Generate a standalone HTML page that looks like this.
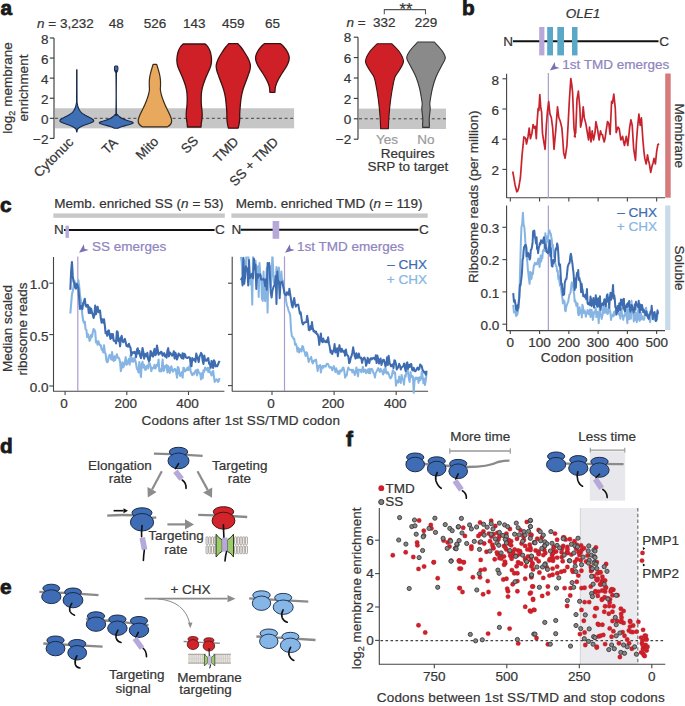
<!DOCTYPE html>
<html><head><meta charset="utf-8"><style>
html,body{margin:0;padding:0;background:#fff;width:685px;height:706px;overflow:hidden}
svg{display:block;font-family:"Liberation Sans", sans-serif}

</style></head><body>
<svg width="685" height="706" viewBox="0 0 685 706">
<rect width="685" height="706" fill="#fff"/>
<text x="0.5" y="15.3" font-size="20.8" fill="#1a1a1a" stroke="#1a1a1a" stroke-width="0.8" font-weight="bold" >a</text>
<rect x="55" y="108.26" width="239.1" height="20.08" fill="#c6c6c6" />
<line x1="55" y1="118.3" x2="294" y2="118.3" stroke="#444" stroke-width="1" stroke-dasharray="3,2.6"/>
<line x1="54" y1="37.98" x2="54" y2="138.38" stroke="#333" stroke-width="1.1" />
<line x1="49.8" y1="37.98" x2="54" y2="37.98" stroke="#333" stroke-width="1.1" />
<text x="48.5" y="43.68" font-size="13.5" fill="#353535" stroke="#353535" stroke-width="0.22" text-anchor="end" >8</text>
<line x1="49.8" y1="58.06" x2="54" y2="58.06" stroke="#333" stroke-width="1.1" />
<text x="48.5" y="63.76" font-size="13.5" fill="#353535" stroke="#353535" stroke-width="0.22" text-anchor="end" >6</text>
<line x1="49.8" y1="78.14" x2="54" y2="78.14" stroke="#333" stroke-width="1.1" />
<text x="48.5" y="83.84" font-size="13.5" fill="#353535" stroke="#353535" stroke-width="0.22" text-anchor="end" >4</text>
<line x1="49.8" y1="98.22" x2="54" y2="98.22" stroke="#333" stroke-width="1.1" />
<text x="48.5" y="103.92" font-size="13.5" fill="#353535" stroke="#353535" stroke-width="0.22" text-anchor="end" >2</text>
<line x1="49.8" y1="118.3" x2="54" y2="118.3" stroke="#333" stroke-width="1.1" />
<text x="48.5" y="124" font-size="13.5" fill="#353535" stroke="#353535" stroke-width="0.22" text-anchor="end" >0</text>
<line x1="49.8" y1="138.38" x2="54" y2="138.38" stroke="#333" stroke-width="1.1" />
<text x="48.5" y="144.08" font-size="13.5" fill="#353535" stroke="#353535" stroke-width="0.22" text-anchor="end" >−2</text>
<text x="37" y="28" font-size="13.5" fill="#353535" stroke="#353535" stroke-width="0.22" ><tspan font-style="italic">n</tspan> = 3,232</text>
<text x="116.2" y="28" font-size="13.5" fill="#353535" stroke="#353535" stroke-width="0.22" text-anchor="middle" >48</text>
<text x="154.9" y="28" font-size="13.5" fill="#353535" stroke="#353535" stroke-width="0.22" text-anchor="middle" >526</text>
<text x="194.2" y="28" font-size="13.5" fill="#353535" stroke="#353535" stroke-width="0.22" text-anchor="middle" >143</text>
<text x="233.3" y="28" font-size="13.5" fill="#353535" stroke="#353535" stroke-width="0.22" text-anchor="middle" >459</text>
<text x="272.4" y="28" font-size="13.5" fill="#353535" stroke="#353535" stroke-width="0.22" text-anchor="middle" >65</text>
<text x="12.3" y="88" font-size="13.5" fill="#353535" stroke="#353535" stroke-width="0.22" text-anchor="middle" transform="rotate(-90 12.3 88)" >log<tspan font-size="9" dy="3">2</tspan><tspan dy="-3"> membrane</tspan></text>
<text x="28" y="88" font-size="13.5" fill="#353535" stroke="#353535" stroke-width="0.22" text-anchor="middle" transform="rotate(-90 28 88)" >enrichment</text>
<path d="M77,69.7 C77.01,74.75 76.98,94.28 77.05,100 C77.12,105.72 77.22,102.83 77.4,104 C77.57,105.17 77.77,106 78.1,107 C78.43,108 78.87,109.07 79.4,110 C79.93,110.93 80.4,111.77 81.3,112.6 C82.2,113.43 83.55,114.27 84.8,115 C86.05,115.73 87.55,116.33 88.8,117 C90.05,117.67 91.47,118.42 92.3,119 C93.13,119.58 93.72,120 93.8,120.5 C93.88,121 93.55,121.5 92.8,122 C92.05,122.5 90.63,123 89.3,123.5 C87.97,124 86.13,124.5 84.8,125 C83.47,125.5 82.3,126 81.3,126.5 C80.3,127 79.45,127.5 78.8,128 C78.15,128.5 77.7,128.83 77.4,129.5 C77.1,130.17 77.07,131.58 77,132 L76.6,132 C76.53,131.58 76.5,130.17 76.2,129.5 C75.9,128.83 75.45,128.5 74.8,128 C74.15,127.5 73.3,127 72.3,126.5 C71.3,126 70.13,125.5 68.8,125 C67.47,124.5 65.63,124 64.3,123.5 C62.97,123 61.55,122.5 60.8,122 C60.05,121.5 59.72,121 59.8,120.5 C59.88,120 60.47,119.58 61.3,119 C62.13,118.42 63.55,117.67 64.8,117 C66.05,116.33 67.55,115.73 68.8,115 C70.05,114.27 71.4,113.43 72.3,112.6 C73.2,111.77 73.67,110.93 74.2,110 C74.73,109.07 75.17,108 75.5,107 C75.83,106 76.03,105.17 76.2,104 C76.38,102.83 76.48,105.72 76.55,100 C76.62,94.28 76.59,74.75 76.6,69.7 Z" fill="#3f6fb5" stroke="#1b2a48" stroke-width="1.1" stroke-linejoin="round"/>
<path d="M117.2,66 C117.3,66.17 117.7,66.33 117.8,67 C117.9,67.67 117.93,69.17 117.8,70 C117.67,70.83 117.22,71.33 117,72 C116.78,72.67 116.54,67.33 116.45,74 C116.36,80.67 116.29,105.25 116.45,112 C116.61,118.75 116.94,113.75 117.4,114.5 C117.86,115.25 118.4,115.83 119.2,116.5 C120,117.17 120.87,117.83 122.2,118.5 C123.53,119.17 125.45,119.88 127.2,120.5 C128.95,121.12 131.87,121.7 132.7,122.2 C133.53,122.7 133.03,123.03 132.2,123.5 C131.37,123.97 129.37,124.5 127.7,125 C126.03,125.5 123.87,125.95 122.2,126.5 C120.53,127.05 118.45,128 117.7,128.3 L114.7,128.3 C113.95,128 111.87,127.05 110.2,126.5 C108.53,125.95 106.37,125.5 104.7,125 C103.03,124.5 101.03,123.97 100.2,123.5 C99.37,123.03 98.87,122.7 99.7,122.2 C100.53,121.7 103.45,121.12 105.2,120.5 C106.95,119.88 108.87,119.17 110.2,118.5 C111.53,117.83 112.4,117.17 113.2,116.5 C114,115.83 114.54,115.25 115,114.5 C115.46,113.75 115.79,118.75 115.95,112 C116.11,105.25 116.04,80.67 115.95,74 C115.86,67.33 115.62,72.67 115.4,72 C115.18,71.33 114.73,70.83 114.6,70 C114.47,69.17 114.5,67.67 114.6,67 C114.7,66.33 115.1,66.17 115.2,66 Z" fill="#3f6fb5" stroke="#1b2a48" stroke-width="1.1" stroke-linejoin="round"/>
<path d="M156.7,64.4 C156.83,64.83 157.17,65.9 157.5,67 C157.83,68.1 158.3,69.5 158.7,71 C159.1,72.5 159.6,74.33 159.9,76 C160.2,77.67 160.4,79.33 160.5,81 C160.6,82.67 160.52,84.5 160.5,86 C160.48,87.5 160.25,88.5 160.4,90 C160.55,91.5 160.95,93.33 161.4,95 C161.85,96.67 162.48,98.33 163.1,100 C163.72,101.67 164.37,103.33 165.1,105 C165.83,106.67 166.7,108.33 167.5,110 C168.3,111.67 169.23,113.42 169.9,115 C170.57,116.58 171.25,118.25 171.5,119.5 C171.75,120.75 171.67,121.58 171.4,122.5 C171.13,123.42 170.57,124.28 169.9,125 C169.23,125.72 167.82,126.5 167.4,126.8 L142.4,126.8 C141.98,126.5 140.57,125.72 139.9,125 C139.23,124.28 138.67,123.42 138.4,122.5 C138.13,121.58 138.05,120.75 138.3,119.5 C138.55,118.25 139.23,116.58 139.9,115 C140.57,113.42 141.5,111.67 142.3,110 C143.1,108.33 143.97,106.67 144.7,105 C145.43,103.33 146.08,101.67 146.7,100 C147.32,98.33 147.95,96.67 148.4,95 C148.85,93.33 149.25,91.5 149.4,90 C149.55,88.5 149.32,87.5 149.3,86 C149.28,84.5 149.2,82.67 149.3,81 C149.4,79.33 149.6,77.67 149.9,76 C150.2,74.33 150.7,72.5 151.1,71 C151.5,69.5 151.97,68.1 152.3,67 C152.63,65.9 152.97,64.83 153.1,64.4 Z" fill="#e8a95e" stroke="#3a2a18" stroke-width="1.2" stroke-linejoin="round"/>
<path d="M205.2,44 C205.67,44.5 207.2,45.83 208,47 C208.8,48.17 209.47,49.5 210,51 C210.53,52.5 210.95,54.33 211.2,56 C211.45,57.67 211.58,59.33 211.5,61 C211.42,62.67 211.17,64.33 210.7,66 C210.23,67.67 209.4,69.33 208.7,71 C208,72.67 207.2,74.33 206.5,76 C205.8,77.67 205.12,79.33 204.5,81 C203.88,82.67 203.27,84.33 202.8,86 C202.33,87.67 201.97,89.17 201.7,91 C201.43,92.83 201.27,94.83 201.2,97 C201.13,99.17 201.18,101.83 201.3,104 C201.42,106.17 201.75,108.17 201.9,110 C202.05,111.83 202.22,113.33 202.2,115 C202.18,116.67 201.97,118.5 201.8,120 C201.63,121.5 201.33,122.83 201.2,124 C201.07,125.17 201.03,126.5 201,127 L187.4,127 C187.37,126.5 187.33,125.17 187.2,124 C187.07,122.83 186.77,121.5 186.6,120 C186.43,118.5 186.22,116.67 186.2,115 C186.18,113.33 186.35,111.83 186.5,110 C186.65,108.17 186.98,106.17 187.1,104 C187.22,101.83 187.27,99.17 187.2,97 C187.13,94.83 186.97,92.83 186.7,91 C186.43,89.17 186.07,87.67 185.6,86 C185.13,84.33 184.52,82.67 183.9,81 C183.28,79.33 182.6,77.67 181.9,76 C181.2,74.33 180.4,72.67 179.7,71 C179,69.33 178.17,67.67 177.7,66 C177.23,64.33 176.98,62.67 176.9,61 C176.82,59.33 176.95,57.67 177.2,56 C177.45,54.33 177.87,52.5 178.4,51 C178.93,49.5 179.6,48.17 180.4,47 C181.2,45.83 182.73,44.5 183.2,44 Z" fill="#cf2027" stroke="#3d1212" stroke-width="1.3" stroke-linejoin="round"/>
<path d="M237.9,43.7 C238.38,44.25 239.73,45.62 240.8,47 C241.87,48.38 243.12,50.17 244.3,52 C245.48,53.83 246.97,56.17 247.9,58 C248.83,59.83 249.48,61.67 249.9,63 C250.32,64.33 250.4,64.83 250.4,66 C250.4,67.17 250.32,68.33 249.9,70 C249.48,71.67 248.67,73.83 247.9,76 C247.13,78.17 246.17,80.57 245.3,83 C244.43,85.43 243.4,88.1 242.7,90.6 C242,93.1 241.53,95.1 241.1,98 C240.67,100.9 240.33,105.33 240.1,108 C239.87,110.67 239.77,112.17 239.7,114 C239.63,115.83 239.8,117.33 239.7,119 C239.6,120.67 239.37,122.47 239.1,124 C238.83,125.53 238.27,127.5 238.1,128.2 L228.5,128.2 C228.33,127.5 227.77,125.53 227.5,124 C227.23,122.47 227,120.67 226.9,119 C226.8,117.33 226.97,115.83 226.9,114 C226.83,112.17 226.73,110.67 226.5,108 C226.27,105.33 225.93,100.9 225.5,98 C225.07,95.1 224.6,93.1 223.9,90.6 C223.2,88.1 222.17,85.43 221.3,83 C220.43,80.57 219.47,78.17 218.7,76 C217.93,73.83 217.12,71.67 216.7,70 C216.28,68.33 216.2,67.17 216.2,66 C216.2,64.83 216.28,64.33 216.7,63 C217.12,61.67 217.77,59.83 218.7,58 C219.63,56.17 221.12,53.83 222.3,52 C223.48,50.17 224.73,48.38 225.8,47 C226.87,45.62 228.22,44.25 228.7,43.7 Z" fill="#cf2027" stroke="#3d1212" stroke-width="1.3" stroke-linejoin="round"/>
<path d="M280.4,43.7 C280.98,44.25 282.82,45.78 283.9,47 C284.98,48.22 286.1,49.67 286.9,51 C287.7,52.33 288.32,53.92 288.7,55 C289.08,56.08 289.18,56.5 289.2,57.5 C289.22,58.5 289.13,59.75 288.8,61 C288.47,62.25 287.85,63.67 287.2,65 C286.55,66.33 285.73,67.67 284.9,69 C284.07,70.33 283.15,71.5 282.2,73 C281.25,74.5 280.12,76.33 279.2,78 C278.28,79.67 277.33,81.5 276.7,83 C276.07,84.5 275.7,85.45 275.4,87 C275.1,88.55 274.98,91.42 274.9,92.3 L269.9,92.3 C269.82,91.42 269.7,88.55 269.4,87 C269.1,85.45 268.73,84.5 268.1,83 C267.47,81.5 266.52,79.67 265.6,78 C264.68,76.33 263.55,74.5 262.6,73 C261.65,71.5 260.73,70.33 259.9,69 C259.07,67.67 258.25,66.33 257.6,65 C256.95,63.67 256.33,62.25 256,61 C255.67,59.75 255.58,58.5 255.6,57.5 C255.62,56.5 255.72,56.08 256.1,55 C256.48,53.92 257.1,52.33 257.9,51 C258.7,49.67 259.82,48.22 260.9,47 C261.98,45.78 263.82,44.25 264.4,43.7 Z" fill="#cf2027" stroke="#3d1212" stroke-width="1.3" stroke-linejoin="round"/>
<text x="74.3" y="143" font-size="13.5" fill="#353535" stroke="#353535" stroke-width="0.22" text-anchor="end" transform="rotate(-45 74.3 143)" >Cytonuc</text>
<text x="118.7" y="143.5" font-size="13.5" fill="#353535" stroke="#353535" stroke-width="0.22" text-anchor="end" transform="rotate(-45 118.7 143.5)" >TA</text>
<text x="159.4" y="142.5" font-size="13.5" fill="#353535" stroke="#353535" stroke-width="0.22" text-anchor="end" transform="rotate(-45 159.4 142.5)" >Mito</text>
<text x="199.2" y="141.5" font-size="13.5" fill="#353535" stroke="#353535" stroke-width="0.22" text-anchor="end" transform="rotate(-45 199.2 141.5)" >SS</text>
<text x="239.5" y="142.5" font-size="13.5" fill="#353535" stroke="#353535" stroke-width="0.22" text-anchor="end" transform="rotate(-45 239.5 142.5)" >TMD</text>
<text x="279.1" y="142.8" font-size="13.5" fill="#353535" stroke="#353535" stroke-width="0.22" text-anchor="end" transform="rotate(-45 279.1 142.8)" >SS + TMD</text>
<rect x="359" y="108.6" width="87" height="20.4" fill="#c6c6c6" />
<line x1="359" y1="118.8" x2="446" y2="118.8" stroke="#444" stroke-width="1" stroke-dasharray="3,2.6"/>
<line x1="358" y1="37.2" x2="358" y2="139.2" stroke="#333" stroke-width="1.1" />
<line x1="353.8" y1="37.2" x2="358" y2="37.2" stroke="#333" stroke-width="1.1" />
<text x="351.2" y="42.3" font-size="13.5" fill="#353535" stroke="#353535" stroke-width="0.22" text-anchor="end" >8</text>
<line x1="353.8" y1="57.6" x2="358" y2="57.6" stroke="#333" stroke-width="1.1" />
<text x="351.2" y="62.7" font-size="13.5" fill="#353535" stroke="#353535" stroke-width="0.22" text-anchor="end" >6</text>
<line x1="353.8" y1="78" x2="358" y2="78" stroke="#333" stroke-width="1.1" />
<text x="351.2" y="83.1" font-size="13.5" fill="#353535" stroke="#353535" stroke-width="0.22" text-anchor="end" >4</text>
<line x1="353.8" y1="98.4" x2="358" y2="98.4" stroke="#333" stroke-width="1.1" />
<text x="351.2" y="103.5" font-size="13.5" fill="#353535" stroke="#353535" stroke-width="0.22" text-anchor="end" >2</text>
<line x1="353.8" y1="118.8" x2="358" y2="118.8" stroke="#333" stroke-width="1.1" />
<text x="351.2" y="123.9" font-size="13.5" fill="#353535" stroke="#353535" stroke-width="0.22" text-anchor="end" >0</text>
<line x1="353.8" y1="139.2" x2="358" y2="139.2" stroke="#333" stroke-width="1.1" />
<text x="351.2" y="144.3" font-size="13.5" fill="#353535" stroke="#353535" stroke-width="0.22" text-anchor="end" >−2</text>
<text x="346.5" y="26.5" font-size="13.5" fill="#353535" stroke="#353535" stroke-width="0.22" ><tspan font-style="italic">n</tspan> = </text>
<text x="384.2" y="26.5" font-size="13.5" fill="#353535" stroke="#353535" stroke-width="0.22" text-anchor="middle" >332</text>
<text x="426" y="26.5" font-size="13.5" fill="#353535" stroke="#353535" stroke-width="0.22" text-anchor="middle" >229</text>
<polyline points="384.3,14.2 384.3,9.6 425.5,9.6 425.5,14.2" fill="none" stroke="#555" stroke-width="1.1" stroke-linejoin="round" />
<text x="406" y="14.8" font-size="16.5" fill="#353535" stroke="#353535" stroke-width="0.22" text-anchor="middle" >**</text>
<path d="M391.9,43.8 C393.17,45.17 397.57,49.08 399.5,52 C401.43,54.92 403.5,58.3 403.5,61.3 C403.5,64.3 400.92,67.38 399.5,70 C398.08,72.62 396.17,74 395,77 C393.83,80 393.18,84.5 392.5,88 C391.82,91.5 391.37,94.67 390.9,98 C390.43,101.33 390.05,104.53 389.7,108 C389.35,111.47 389,115.97 388.8,118.8 C388.6,121.63 388.58,123.35 388.5,125 C388.42,126.65 388.33,128.08 388.3,128.7 L380.7,128.7 C380.67,128.08 380.58,126.65 380.5,125 C380.42,123.35 380.4,121.63 380.2,118.8 C380,115.97 379.65,111.47 379.3,108 C378.95,104.53 378.57,101.33 378.1,98 C377.63,94.67 377.18,91.5 376.5,88 C375.82,84.5 375.17,80 374,77 C372.83,74 370.92,72.62 369.5,70 C368.08,67.38 365.5,64.3 365.5,61.3 C365.5,58.3 367.57,54.92 369.5,52 C371.43,49.08 375.83,45.17 377.1,43.8 Z" fill="#cf2027" stroke="#3d1212" stroke-width="1.1" stroke-linejoin="round"/>
<path d="M434.3,42 C435.5,43.33 439.67,47.37 441.5,50 C443.33,52.63 445.3,55.13 445.3,57.8 C445.3,60.47 443.05,62.8 441.5,66 C439.95,69.2 437.5,73.33 436,77 C434.5,80.67 433.4,84.5 432.5,88 C431.6,91.5 431.05,95.33 430.6,98 C430.15,100.67 429.87,102.17 429.8,104 C429.73,105.83 430.3,106.53 430.2,109 C430.1,111.47 429.33,116.3 429.2,118.8 C429.07,121.3 429.38,122.57 429.4,124 C429.42,125.43 429.32,126.83 429.3,127.4 L422.7,127.4 C422.68,126.83 422.58,125.43 422.6,124 C422.62,122.57 422.93,121.3 422.8,118.8 C422.67,116.3 421.9,111.47 421.8,109 C421.7,106.53 422.27,105.83 422.2,104 C422.13,102.17 421.85,100.67 421.4,98 C420.95,95.33 420.4,91.5 419.5,88 C418.6,84.5 417.5,80.67 416,77 C414.5,73.33 412.05,69.2 410.5,66 C408.95,62.8 406.7,60.47 406.7,57.8 C406.7,55.13 408.67,52.63 410.5,50 C412.33,47.37 416.5,43.33 417.7,42 Z" fill="#8a8a8a" stroke="#333" stroke-width="1.1" stroke-linejoin="round"/>
<text x="386.9" y="143.5" font-size="13.5" fill="#9a9a9a" stroke="#9a9a9a" stroke-width="0.22" text-anchor="middle" >Yes</text>
<text x="425.8" y="143.5" font-size="13.5" fill="#9a9a9a" stroke="#9a9a9a" stroke-width="0.22" text-anchor="middle" >No</text>
<text x="407.8" y="157.7" font-size="13.5" fill="#353535" stroke="#353535" stroke-width="0.22" text-anchor="middle" >Requires</text>
<text x="407.8" y="170.5" font-size="13.5" fill="#353535" stroke="#353535" stroke-width="0.22" text-anchor="middle" >SRP to target</text>
<text x="462" y="15.3" font-size="20.8" fill="#1a1a1a" stroke="#1a1a1a" stroke-width="0.8" font-weight="bold" >b</text>
<text x="583" y="18.2" font-size="13.5" fill="#353535" stroke="#353535" stroke-width="0.22" text-anchor="middle" font-style="italic" >OLE1</text>
<text x="503.3" y="46.4" font-size="13.5" fill="#353535" stroke="#353535" stroke-width="0.22" >N</text>
<line x1="513" y1="41.3" x2="658.5" y2="41.3" stroke="#111" stroke-width="2" />
<text x="659.2" y="46.4" font-size="13.5" fill="#353535" stroke="#353535" stroke-width="0.22" >C</text>
<rect x="539.2" y="27" width="5.2" height="28.4" fill="#b6a8d8" />
<rect x="547.2" y="27" width="5.8" height="28.4" fill="#5aa7c7" />
<rect x="557.3" y="27" width="6.7" height="28.4" fill="#5aa7c7" />
<rect x="572" y="27" width="5.5" height="28.4" fill="#5aa7c7" />
<polygon points="549.9,70.6 554.7,62 555.4,66.6 559.6,67.9" fill="#7b70b3" stroke="none" stroke-width="0" />
<text x="562.3" y="68.8" font-size="13.5" fill="#8f84c0" stroke="#8f84c0" stroke-width="0.22" >1st TMD emerges</text>
<line x1="506.6" y1="73.7" x2="506.6" y2="198" stroke="#444" stroke-width="1.1" />
<line x1="506.6" y1="197.8" x2="665" y2="197.8" stroke="#444" stroke-width="1.1" />
<line x1="502.4" y1="78.8" x2="506.6" y2="78.8" stroke="#444" stroke-width="1.1" />
<text x="499.1" y="84.8" font-size="13.5" fill="#353535" stroke="#353535" stroke-width="0.22" text-anchor="end" >8</text>
<line x1="502.4" y1="109" x2="506.6" y2="109" stroke="#444" stroke-width="1.1" />
<text x="499.1" y="115" font-size="13.5" fill="#353535" stroke="#353535" stroke-width="0.22" text-anchor="end" >6</text>
<line x1="502.4" y1="139.2" x2="506.6" y2="139.2" stroke="#444" stroke-width="1.1" />
<text x="499.1" y="145.2" font-size="13.5" fill="#353535" stroke="#353535" stroke-width="0.22" text-anchor="end" >4</text>
<line x1="502.4" y1="169.4" x2="506.6" y2="169.4" stroke="#444" stroke-width="1.1" />
<text x="499.1" y="175.4" font-size="13.5" fill="#353535" stroke="#353535" stroke-width="0.22" text-anchor="end" >2</text>
<line x1="510.3" y1="197.8" x2="510.3" y2="201.5" stroke="#444" stroke-width="1.1" />
<line x1="539.57" y1="197.8" x2="539.57" y2="201.5" stroke="#444" stroke-width="1.1" />
<line x1="568.84" y1="197.8" x2="568.84" y2="201.5" stroke="#444" stroke-width="1.1" />
<line x1="598.11" y1="197.8" x2="598.11" y2="201.5" stroke="#444" stroke-width="1.1" />
<line x1="627.38" y1="197.8" x2="627.38" y2="201.5" stroke="#444" stroke-width="1.1" />
<line x1="656.65" y1="197.8" x2="656.65" y2="201.5" stroke="#444" stroke-width="1.1" />
<rect x="665.2" y="73.5" width="5.5" height="124.2" fill="#d77a7c" />
<text x="675" y="135.7" font-size="13.5" fill="#353535" stroke="#353535" stroke-width="0.22" text-anchor="middle" transform="rotate(90 675 135.7)" textLength="64.5">Membrane</text>
<line x1="548.35" y1="73" x2="548.35" y2="198" stroke="#a89cd0" stroke-width="1.2" />
<polyline points="512.7,171.5 513.85,177.69 515,184.7 516.8,191.8 517.7,190.87 518.6,188.3 520.4,177.7 522.1,154.6 523.9,136.9 524.8,137.44 525.7,138.7 526.5,144 528,136.9 529.2,128.1 530.4,138.7 531.9,133.4 533.1,124.6 534.5,128.1 535.4,126.3 536.3,138.7 537.2,121 538.1,108.6 538.9,110.4 539.8,94.5 540.7,106.9 541.6,112.2 542.5,133.4 543.9,142.3 545.1,149.3 546.4,124.6 547.4,112.2 548.7,101.5 549.9,113.9 551.3,117.5 552.7,128.1 554,149.3 555.8,129.9 557.5,106.9 558.8,117.5 560.2,121 561.9,128.1 562.8,140 563.7,152.9 565.1,158.2 566.9,145.8 568.1,124.6 569.4,99.8 570.8,78.5 571.7,84.11 572.6,92.7 574,128.1 575.2,136.9 574.4,136.3 575.7,132.6 577,99.5 578.4,91.2 579.9,108.7 580.6,127.1 582.1,119.8 583.2,106.9 584.3,117.9 585.8,123.4 587.3,132.6 588.6,140 589.5,127.1 591,141.9 592.2,130.8 593.5,140 595,132.6 595.9,121.6 596.85,125.86 597.8,130.8 599.1,140 600.5,130.8 601.45,134.43 602.4,134.5 603.3,138.88 604.2,141.9 605.15,138.01 606.1,130.8 607.5,121.6 608.8,123.4 610.1,134.5 611.6,101.3 612.5,103.2 613.8,94 615.3,108.7 616.2,132.6 618,127.1 619.3,129 620.8,140 621.7,138.55 622.6,136.3 623.55,141.53 624.5,145.5 626.3,136.3 627.8,145.5 628.75,136.6 629.7,127.1 630.9,119.8 632.2,125.3 633.7,149.2 635.5,160.3 636.45,141.98 637.4,129 638.9,114.2 640.2,125.3 641.4,117.9 642.9,140 643.85,150.57 644.8,158.4 646.2,164 647.5,154.8 648.45,160.21 649.4,164 650.7,172.3 652.1,165.8 653.05,162.9 654,158.4 655.4,164 656.7,151.1 657.9,144.69 659.1,143.7" fill="none" stroke="#c8232c" stroke-width="1.7" stroke-linejoin="round" />
<line x1="506.6" y1="205.5" x2="506.6" y2="331.1" stroke="#444" stroke-width="1.1" />
<line x1="506.6" y1="330.6" x2="665" y2="330.6" stroke="#444" stroke-width="1.1" />
<line x1="502.4" y1="227.3" x2="506.6" y2="227.3" stroke="#444" stroke-width="1.1" />
<text x="499.4" y="232.9" font-size="13.5" fill="#353535" stroke="#353535" stroke-width="0.22" text-anchor="end" >0.3</text>
<line x1="502.4" y1="259.6" x2="506.6" y2="259.6" stroke="#444" stroke-width="1.1" />
<text x="499.4" y="265.2" font-size="13.5" fill="#353535" stroke="#353535" stroke-width="0.22" text-anchor="end" >0.2</text>
<line x1="502.4" y1="291.9" x2="506.6" y2="291.9" stroke="#444" stroke-width="1.1" />
<text x="499.4" y="297.5" font-size="13.5" fill="#353535" stroke="#353535" stroke-width="0.22" text-anchor="end" >0.1</text>
<line x1="502.4" y1="324.2" x2="506.6" y2="324.2" stroke="#444" stroke-width="1.1" />
<text x="499.4" y="329.8" font-size="13.5" fill="#353535" stroke="#353535" stroke-width="0.22" text-anchor="end" >0.0</text>
<line x1="510.3" y1="330.6" x2="510.3" y2="334" stroke="#444" stroke-width="1.1" />
<text x="510.3" y="346.7" font-size="13.5" fill="#353535" stroke="#353535" stroke-width="0.22" text-anchor="middle" >0</text>
<line x1="539.57" y1="330.6" x2="539.57" y2="334" stroke="#444" stroke-width="1.1" />
<text x="539.57" y="346.7" font-size="13.5" fill="#353535" stroke="#353535" stroke-width="0.22" text-anchor="middle" >100</text>
<line x1="568.84" y1="330.6" x2="568.84" y2="334" stroke="#444" stroke-width="1.1" />
<text x="568.84" y="346.7" font-size="13.5" fill="#353535" stroke="#353535" stroke-width="0.22" text-anchor="middle" >200</text>
<line x1="598.11" y1="330.6" x2="598.11" y2="334" stroke="#444" stroke-width="1.1" />
<text x="598.11" y="346.7" font-size="13.5" fill="#353535" stroke="#353535" stroke-width="0.22" text-anchor="middle" >300</text>
<line x1="627.38" y1="330.6" x2="627.38" y2="334" stroke="#444" stroke-width="1.1" />
<text x="627.38" y="346.7" font-size="13.5" fill="#353535" stroke="#353535" stroke-width="0.22" text-anchor="middle" >400</text>
<line x1="656.65" y1="330.6" x2="656.65" y2="334" stroke="#444" stroke-width="1.1" />
<text x="656.65" y="346.7" font-size="13.5" fill="#353535" stroke="#353535" stroke-width="0.22" text-anchor="middle" >500</text>
<text x="540.7" y="361.9" font-size="13.5" fill="#353535" stroke="#353535" stroke-width="0.22" textLength="92.6">Codon position</text>
<rect x="665.2" y="205.5" width="5.2" height="124.5" fill="#c9dae9" />
<text x="675" y="268" font-size="13.5" fill="#353535" stroke="#353535" stroke-width="0.22" text-anchor="middle" transform="rotate(90 675 268)" >Soluble</text>
<line x1="548.35" y1="205.5" x2="548.35" y2="330" stroke="#a89cd0" stroke-width="1.2" />
<text x="657" y="216.8" font-size="13.5" fill="#3e6cb0" stroke="#3e6cb0" stroke-width="0.22" text-anchor="end" >– CHX</text>
<text x="657" y="231.2" font-size="13.5" fill="#86b5e3" stroke="#86b5e3" stroke-width="0.22" text-anchor="end" >+ CHX</text>
<text x="478" y="196.8" font-size="13.5" fill="#353535" stroke="#353535" stroke-width="0.22" text-anchor="middle" transform="rotate(-90 478 196.8)" >Ribosome reads (per million)</text>
<polyline points="513.23,304.82 513.96,312.4 514.69,311.28 515.42,312.36 516.15,316.12 516.74,310.97 517.32,314.72 517.91,311.28 518.5,307.39 519.08,294.29 519.67,285.44 520.25,264.36 520.84,242.78 521.42,227.3 522.15,224.35 522.89,212.76 523.62,224.63 524.35,227.3 524.94,234.48 525.52,245 526.11,256.37 526.69,255.23 527.28,261.49 527.86,269.29 528.45,274.5 529.03,279.95 529.62,283.82 530.28,271.87 530.94,279.2 531.59,278.14 532.25,272.52 532.91,274.14 533.57,267.34 534.23,264.74 534.89,262.83 535.47,264.46 536.06,263.86 536.64,263.07 537.23,264.44 537.81,261.02 538.4,258.61 538.98,260.79 539.57,266.93 540.16,259.6 540.69,255.49 541.23,261.41 541.77,255.36 542.3,258.38 542.84,251.52 543.38,249.91 544.03,251.06 544.69,245.92 545.35,233.34 546.01,243.45 546.59,241.47 547.18,236.15 547.77,241.69 548.35,235.86 548.94,230.33 549.52,230.53 550.11,233.01 550.69,233.52 551.28,236.99 551.79,239.85 552.3,247.02 552.81,244.68 553.33,249.91 553.99,256.83 554.64,251.33 555.3,263.82 555.96,266.06 556.55,266.31 557.13,271.43 557.72,270.75 558.3,278.97 558.89,275.97 559.47,282.21 560.06,285.88 560.64,284.18 561.23,289.68 561.82,294.63 562.4,298.36 562.94,303.29 563.47,299.94 564.01,303.16 564.55,301.14 565.08,310.47 565.62,311.28 566.28,306.89 566.94,304.63 567.6,303.01 568.25,301.59 568.84,297.62 569.43,294.48 570.01,294.03 570.6,292.27 571.18,286.85 571.77,282.21 572.35,283.99 572.94,284.59 573.52,290.37 574.11,293.97 574.69,301.59 575.24,300.44 575.79,302.34 576.34,305.78 576.89,305.31 577.44,303.36 577.99,312.44 578.54,315.36 579.08,314.51 579.63,307.34 580.18,313.24 580.73,310.45 581.28,310.6 581.83,317.54 582.38,304.65 582.93,306.79 583.48,312.89 584.06,312.43 584.65,310.54 585.23,312.93 585.82,316.68 586.4,314.1 586.99,312.54 587.57,310.06 588.16,311.67 588.74,314.14 589.33,314.51 589.91,309.53 590.5,316.89 591.09,311.21 591.67,309.91 592.26,314.74 592.84,319.9 593.43,316.6 594.01,312.38 594.6,311.18 595.18,312.89 595.77,307.72 596.35,317.11 596.94,313.86 597.52,311.88 598.11,315.07 598.7,323.25 599.28,312.29 599.87,307.26 600.45,312.23 601.04,316.12 601.62,318.9 602.21,316.62 602.79,313.88 603.38,305.34 603.96,311.51 604.55,312.81 605.13,307.2 605.72,312.54 606.31,305.15 606.89,311.28 607.48,314.04 608.06,313.61 608.65,309.69 609.23,307.51 609.82,310.57 610.4,312.15 610.99,320.01 611.57,316.4 612.16,316.36 612.75,314.51 613.33,316.24 613.92,312.1 614.5,315.22 615.09,311.07 615.67,313.41 616.26,314.72 616.84,312.96 617.43,311.69 618.01,310.01 618.6,312.89 619.18,314.91 619.77,314.37 620.36,318.71 620.94,308.49 621.53,309.35 622.11,315.47 622.7,316.86 623.28,319.87 623.87,315.2 624.45,316.12 625.04,315.07 625.62,307.73 626.21,314.28 626.79,317.6 627.38,323.2 627.97,309.18 628.55,313.19 629.14,319.26 629.72,312.58 630.31,312.89 630.89,318.77 631.48,300.85 632.06,309.4 632.65,311.51 633.23,314.32 633.82,321.47 634.4,314.47 634.99,319.71 635.58,312.23 636.16,314.51 636.75,322.27 637.33,318.06 637.92,310.66 638.5,309.32 639.09,319.51 639.67,320.93 640.26,312.52 640.84,312.77 641.43,319.47 642.01,316.12 642.6,318.43 643.19,318.27 643.77,319.87 644.36,317.9 644.94,310.87 645.53,312.71 646.11,307.69 646.7,315.14 647.28,315.15 647.87,314.51 648.45,318.32 649.04,315.6 649.63,320.14 650.21,322.12 650.8,313.65 651.38,311.33 651.97,313.8 652.55,312.36 653.14,316.52 653.72,317.74 654.27,319.69 654.82,316.22 655.37,317.25 655.92,319.27 656.47,320.73 657.02,319.37 657.56,313.52 658.11,312.89" fill="none" stroke="#86b5e3" stroke-width="2" stroke-linejoin="round" />
<polyline points="513.23,293.19 513.96,301.72 514.69,299.97 515.42,303.99 516.15,309.66 516.67,310.25 517.18,310.56 517.69,305.02 518.2,308.05 518.79,302.16 519.37,297.72 519.96,284.69 520.54,285.44 521.06,280.74 521.57,277.01 522.08,270.94 522.59,259.6 523.11,258.24 523.62,250.8 524.13,246.88 524.64,246.68 525.23,245.06 525.81,244.94 526.4,247.82 526.98,256.37 527.64,254.81 528.3,253.15 528.96,256.35 529.62,259.6 530.2,258.25 530.79,250.05 531.37,249.53 531.96,246.68 532.55,243.22 533.13,231.28 533.72,231.63 534.3,230.53 534.89,236.39 535.47,239.23 536.06,243.45 536.57,237.3 537.08,248.99 537.59,247.88 538.11,253.14 538.69,248.13 539.28,245.94 539.86,243.08 540.45,244.34 541.03,240.22 541.62,242.23 542.2,241.67 542.79,242.92 543.38,239.27 543.96,237.16 544.55,243.45 545.13,248.07 545.72,244.51 546.3,251.63 546.89,252.2 547.47,252.19 548.06,253.14 548.64,248.25 549.23,245.9 549.81,240.22 550.33,255.88 550.84,247.95 551.35,260.38 551.86,266.06 552.45,266.54 553.03,260.18 553.62,263.17 554.21,259.6 554.79,261.32 555.38,251.18 555.96,248.2 556.55,249.46 557.13,243.45 557.72,245.88 558.3,253.21 558.89,264.3 559.47,266.06 560.06,264.4 560.64,274.59 561.23,284.49 561.82,283.61 562.4,289.63 562.99,295.13 563.57,288.74 564.16,294.41 564.74,283.11 565.33,280.77 565.91,278.97 566.5,278.98 567.13,272.82 567.77,266.51 568.4,264.89 569.04,263.25 569.67,262.96 570.3,256.37 570.82,253.79 571.33,255.87 571.84,259.95 572.35,262.83 572.94,268.55 573.52,272.95 574.11,282.21 574.69,290.01 575.28,278.72 575.86,287.79 576.45,276.85 577.04,272.83 577.62,275.75 578.21,270.03 578.79,279.85 579.38,277.89 579.96,280.99 580.55,282.21 581.08,292.2 581.62,283.71 582.16,288.55 582.69,290.4 583.23,296.2 583.77,295.13 584.4,296.45 585.04,297.35 585.67,294.39 586.3,299.29 586.94,289.12 587.57,303.2 588.16,304.3 588.74,303.58 589.33,302.62 589.91,305.15 590.5,296.58 591.09,299.49 591.67,306.21 592.26,301.59 592.84,301.38 593.43,297.98 594.01,307.59 594.6,302.29 595.18,304.04 595.77,295.13 596.35,302.39 596.94,305.71 597.52,306.61 598.11,298.14 598.7,305.47 599.33,306.6 599.96,296.32 600.6,309.79 601.23,304.48 601.87,304.27 602.5,303.2 603.13,305.14 603.77,302.94 604.4,299.25 605.04,303.71 605.67,306.05 606.31,300.62 606.89,295.23 607.48,294.41 608.06,301.81 608.65,297.85 609.23,307.83 609.82,298.36 610.48,292.83 611.14,299.76 611.79,295.34 612.45,291.9 613.04,285.02 613.62,298.43 614.21,295.13 614.79,299.19 615.38,307.43 615.96,308.05 616.52,314.22 617.08,311.43 617.63,305.94 618.19,311.3 618.75,308.39 619.3,303.32 619.86,306.2 620.41,310.02 620.97,299.58 621.53,304.82 622.11,304.27 622.7,299.7 623.28,308.59 623.87,298.79 624.45,309.78 625.04,311.26 625.62,306.56 626.21,306.43 626.79,304.19 627.38,307.21 627.97,302.96 628.55,305.47 629.14,301.02 629.72,308.7 630.31,311.83 630.89,308.85 631.48,304.98 632.06,305.51 632.65,310.23 633.23,309.66 633.78,312.45 634.33,308.36 634.88,304.22 635.43,309.65 635.98,301.8 636.53,305.06 637.08,304.22 637.62,304.82 638.16,307.46 638.7,300.83 639.23,306.12 639.77,312.18 640.31,304.4 640.84,308.05 641.43,309.86 642.01,304.93 642.6,308.67 643.19,311.99 643.77,309.58 644.36,312.43 644.94,311.28 645.48,315.18 646.02,313.2 646.55,311.35 647.09,315.17 647.63,316.82 648.16,317.74 648.75,318.89 649.33,314.14 649.92,314.53 650.5,311.37 651.09,312.81 651.67,305.76 652.26,312.89 652.84,319.04 653.43,314.22 654.02,312.75 654.6,312.09 655.19,316.12 655.77,321.03 656.36,319.46 656.94,314.77 657.53,310.37 658.11,313.86" fill="none" stroke="#3e6cb0" stroke-width="2" stroke-linejoin="round" />
<text x="0" y="211.8" font-size="20.8" fill="#1a1a1a" stroke="#1a1a1a" stroke-width="0.8" font-weight="bold" >c</text>
<text x="54.3" y="207.6" font-size="13.5" fill="#353535" stroke="#353535" stroke-width="0.22" >Memb. enriched SS (<tspan font-style="italic">n</tspan> = 53)</text>
<rect x="53.4" y="213.4" width="171.4" height="4.4" fill="#c8c8c8" />
<text x="54" y="234.4" font-size="13.5" fill="#353535" stroke="#353535" stroke-width="0.22" >N</text>
<line x1="64" y1="230" x2="214.6" y2="230" stroke="#111" stroke-width="2" />
<text x="215" y="234.4" font-size="13.5" fill="#353535" stroke="#353535" stroke-width="0.22" >C</text>
<rect x="65.5" y="225.7" width="3.4" height="12.2" fill="#b6a8d8" />
<polygon points="79,252.8 83.8,244.2 84.5,248.8 88.7,250.1" fill="#7b70b3" stroke="none" stroke-width="0" />
<text x="92" y="251.2" font-size="13.5" fill="#8f84c0" stroke="#8f84c0" stroke-width="0.22" >SS emerges</text>
<line x1="53.5" y1="257" x2="53.5" y2="391.6" stroke="#444" stroke-width="1.1" />
<line x1="53.5" y1="391.2" x2="224.4" y2="391.2" stroke="#444" stroke-width="1.1" />
<line x1="49.3" y1="283.2" x2="53.5" y2="283.2" stroke="#444" stroke-width="1.1" />
<text x="48.5" y="289.2" font-size="13.5" fill="#353535" stroke="#353535" stroke-width="0.22" text-anchor="end" >1.0</text>
<line x1="49.3" y1="334.6" x2="53.5" y2="334.6" stroke="#444" stroke-width="1.1" />
<text x="48.5" y="340.6" font-size="13.5" fill="#353535" stroke="#353535" stroke-width="0.22" text-anchor="end" >0.5</text>
<line x1="49.3" y1="386" x2="53.5" y2="386" stroke="#444" stroke-width="1.1" />
<text x="48.5" y="392" font-size="13.5" fill="#353535" stroke="#353535" stroke-width="0.22" text-anchor="end" >0.0</text>
<line x1="65.1" y1="391.2" x2="65.1" y2="395" stroke="#444" stroke-width="1.1" />
<text x="64.1" y="407.8" font-size="13.5" fill="#353535" stroke="#353535" stroke-width="0.22" text-anchor="middle" >0</text>
<line x1="126.8" y1="391.2" x2="126.8" y2="395" stroke="#444" stroke-width="1.1" />
<text x="125.8" y="407.8" font-size="13.5" fill="#353535" stroke="#353535" stroke-width="0.22" text-anchor="middle" >200</text>
<line x1="188.5" y1="391.2" x2="188.5" y2="395" stroke="#444" stroke-width="1.1" />
<text x="187.5" y="407.8" font-size="13.5" fill="#353535" stroke="#353535" stroke-width="0.22" text-anchor="middle" >400</text>
<text x="11.8" y="328.5" font-size="13.5" fill="#353535" stroke="#353535" stroke-width="0.22" text-anchor="middle" transform="rotate(-90 11.8 328.5)" >Median scaled</text>
<text x="27.4" y="329" font-size="13.5" fill="#353535" stroke="#353535" stroke-width="0.22" text-anchor="middle" transform="rotate(-90 27.4 329)" >ribosome reads</text>
<text x="141.6" y="424.6" font-size="13.5" fill="#353535" stroke="#353535" stroke-width="0.22" textLength="198.3">Codons after 1st SS/TMD codon</text>
<line x1="77.8" y1="256.4" x2="77.8" y2="391" stroke="#a89cd0" stroke-width="1.2" />
<polyline points="70.34,313.53 71.15,303.47 71.95,294.47 72.75,291.32 73.55,286.68 74.35,280.53 75.16,283.05 75.96,288.55 76.76,287.95 77.56,284.7 78.37,280.28 79.17,286.18 79.97,294.33 80.77,300.6 81.57,306.03 82.38,315.49 83.18,320.66 83.98,323.01 84.78,321.64 85.58,329.27 86.39,329.95 87.19,337.12 87.99,334.2 88.79,336.48 89.59,340.86 90.4,339.27 91.2,334.75 92,336.84 92.8,332.36 93.61,328.98 94.41,329.9 95.21,331.48 96.01,342.44 96.81,341.22 97.62,344.77 98.42,341.38 99.22,343.92 100.02,345.18 100.82,345.33 101.63,349.58 102.43,349.24 103.23,352.4 104.03,345.2 104.83,352.32 105.64,354.03 106.44,360.58 107.24,362.28 108.04,361.17 108.85,356.17 109.65,354.82 110.45,356.31 111.25,359.57 112.05,352.16 112.86,359.32 113.66,360.98 114.46,356.4 115.26,359.99 116.06,357.05 116.87,354.3 117.67,357.62 118.47,357.45 119.27,358.79 120.07,361.93 120.88,371.11 121.68,367.36 122.48,362.39 123.28,367.24 124.09,365.25 124.89,361.67 125.69,357.17 126.49,364.78 127.29,364.03 128.1,360.69 128.9,358.88 129.7,364.59 130.5,355.42 131.3,361.48 132.11,358.25 132.91,361.66 133.71,361.51 134.51,357.71 135.31,360.58 136.12,364.01 136.92,368.95 137.72,369.51 138.52,372.51 139.33,361.96 140.13,370.76 140.93,376.98 141.73,364.1 142.53,361.86 143.34,367.48 144.14,364.92 144.94,369.35 145.74,369.9 146.54,366.19 147.35,365.67 148.15,368.52 148.95,362.44 149.75,363.64 150.55,366.3 151.36,371.09 152.16,367.87 152.96,368.28 153.76,367.86 154.56,364.81 155.37,368.58 156.17,366.96 156.97,364.54 157.77,365.56 158.58,359.65 159.38,371.29 160.18,369.16 160.98,371.5 161.78,368.83 162.59,359.54 163.39,371.05 164.19,370.09 164.99,365.96 165.79,367.08 166.6,364.91 167.4,372.35 168.2,366.16 169,370.46 169.8,372.94 170.61,367.39 171.41,366.28 172.21,370.34 173.01,371.67 173.82,369.88 174.62,368.92 175.42,369.45 176.22,372.5 177.02,377.62 177.83,366.98 178.63,367.89 179.43,373.61 180.23,376 181.03,373.57 181.84,372.11 182.64,377.64 183.44,367.68 184.24,368.14 185.04,371.54 185.85,370.11 186.65,370.12 187.45,367.66 188.25,370.11 189.06,367.32 189.86,365.54 190.66,371.43 191.46,373.46 192.26,375.04 193.07,373.32 193.87,374.46 194.67,372.51 195.47,370.99 196.27,370.05 197.08,375.45 197.88,369.57 198.68,372.35 199.48,372.89 200.28,374.1 201.09,379.35 201.89,373.24 202.69,378.08 203.49,370.38 204.3,371.58 205.1,367.57 205.9,369.4 206.7,370.06 207.5,367.82 208.31,372.06 209.11,368.15 209.91,372.41 210.71,372.6 211.51,375.43 212.32,372.29 213.12,370.97 213.92,376.44 214.72,381.82 215.52,380.25 216.33,379.38 217.13,379.88 217.93,382 218.73,380.81 219.54,378.08" fill="none" stroke="#86b5e3" stroke-width="2.1" stroke-linejoin="round" />
<polyline points="70.34,289.68 71.15,270.97 71.95,261.96 72.75,275.89 73.55,281.8 74.35,283.12 75.16,287.52 75.96,288.46 76.76,283.74 77.56,285.43 78.37,287.98 79.17,298.44 79.97,308.89 80.77,308.27 81.57,305.94 82.38,309.09 83.18,303.13 83.98,301.85 84.78,298.83 85.58,305.61 86.39,306.61 87.19,304.92 87.99,305.29 88.79,312.86 89.59,307.24 90.4,313.03 91.2,308.87 92,312.72 92.8,314.69 93.61,317.91 94.41,315.03 95.21,305.67 96.01,314.12 96.81,308.57 97.62,306.75 98.42,312.18 99.22,310.61 100.02,310.51 100.82,318.24 101.63,322.63 102.43,319.27 103.23,322.62 104.03,319.31 104.83,325.39 105.64,333.28 106.44,331.8 107.24,335.73 108.04,330.99 108.85,330.45 109.65,335.3 110.45,338.87 111.25,334.09 112.05,337.91 112.86,334.03 113.66,340.62 114.46,340.45 115.26,341.13 116.06,343.43 116.87,331.24 117.67,331.96 118.47,341.19 119.27,338.55 120.07,346.29 120.88,337.98 121.68,335.92 122.48,340.99 123.28,342.26 124.09,340.2 124.89,338.95 125.69,342.25 126.49,345.85 127.29,345.43 128.1,346.7 128.9,343.87 129.7,346.42 130.5,347.71 131.3,355.34 132.11,352.99 132.91,352.2 133.71,352.93 134.51,351.93 135.31,352.51 136.12,357.17 136.92,350 137.72,348.23 138.52,353.49 139.33,351.07 140.13,355.73 140.93,358.26 141.73,354.93 142.53,347.99 143.34,352.24 144.14,358.64 144.94,353.8 145.74,355.12 146.54,356.37 147.35,352.83 148.15,359.2 148.95,361.22 149.75,360.15 150.55,351.11 151.36,352.36 152.16,355.69 152.96,356.6 153.76,352.07 154.56,348.91 155.37,355.27 156.17,353.6 156.97,345.53 157.77,349.83 158.58,354.62 159.38,353.17 160.18,353.44 160.98,351.75 161.78,352.41 162.59,355.66 163.39,355.15 164.19,353.16 164.99,356.46 165.79,354.8 166.6,357.61 167.4,351.08 168.2,348.17 169,356.33 169.8,352.54 170.61,353.45 171.41,354.36 172.21,355.67 173.01,354.22 173.82,351.33 174.62,358.5 175.42,352.8 176.22,355.39 177.02,359.47 177.83,356.68 178.63,353.51 179.43,355.53 180.23,354.94 181.03,356.89 181.84,358.24 182.64,353.21 183.44,358.67 184.24,353.78 185.04,354.5 185.85,357.29 186.65,357.75 187.45,358.03 188.25,357.32 189.06,357.24 189.86,357.68 190.66,364.05 191.46,366.29 192.26,358.12 193.07,359.45 193.87,360.19 194.67,358.87 195.47,361.84 196.27,353.66 197.08,356.8 197.88,358.83 198.68,362.1 199.48,356.31 200.28,355.31 201.09,352.94 201.89,354.42 202.69,360.89 203.49,364 204.3,355.56 205.1,360.56 205.9,360.63 206.7,360.58 207.5,358.64 208.31,358.18 209.11,363.81 209.91,364.09 210.71,367.76 211.51,361.12 212.32,361.89 213.12,367.98 213.92,360.25 214.72,361.7 215.52,366.32 216.33,365.46 217.13,366.31 217.93,364.86 218.73,362.69 219.54,360.8" fill="none" stroke="#3e6cb0" stroke-width="2.1" stroke-linejoin="round" />
<text x="235.8" y="207.6" font-size="13.5" fill="#353535" stroke="#353535" stroke-width="0.22" >Memb. enriched TMD (<tspan font-style="italic">n</tspan> = 119)</text>
<rect x="231.4" y="213.4" width="196.3" height="4.4" fill="#c8c8c8" />
<text x="231.4" y="234.4" font-size="13.5" fill="#353535" stroke="#353535" stroke-width="0.22" >N</text>
<line x1="240.7" y1="229.7" x2="418.5" y2="229.7" stroke="#111" stroke-width="2" />
<text x="419" y="234.4" font-size="13.5" fill="#353535" stroke="#353535" stroke-width="0.22" >C</text>
<rect x="272.6" y="221" width="6.6" height="17.8" fill="#b6a8d8" />
<polygon points="285,252.8 289.8,244.2 290.5,248.8 294.7,250.1" fill="#7b70b3" stroke="none" stroke-width="0" />
<text x="297.1" y="251.2" font-size="13.5" fill="#8f84c0" stroke="#8f84c0" stroke-width="0.22" >1st TMD emerges</text>
<clipPath id="clipcr"><rect x="232" y="256.5" width="200" height="140"/></clipPath>
<line x1="232.2" y1="256.7" x2="232.2" y2="391.6" stroke="#444" stroke-width="1.1" />
<line x1="232.2" y1="391.2" x2="428.1" y2="391.2" stroke="#444" stroke-width="1.1" />
<line x1="228" y1="283.2" x2="232.2" y2="283.2" stroke="#444" stroke-width="1.1" />
<line x1="228" y1="334.4" x2="232.2" y2="334.4" stroke="#444" stroke-width="1.1" />
<line x1="228" y1="385.6" x2="232.2" y2="385.6" stroke="#444" stroke-width="1.1" />
<line x1="272" y1="391.2" x2="272" y2="395" stroke="#444" stroke-width="1.1" />
<text x="271" y="407.8" font-size="13.5" fill="#353535" stroke="#353535" stroke-width="0.22" text-anchor="middle" >0</text>
<line x1="334.1" y1="391.2" x2="334.1" y2="395" stroke="#444" stroke-width="1.1" />
<text x="333.1" y="407.8" font-size="13.5" fill="#353535" stroke="#353535" stroke-width="0.22" text-anchor="middle" >200</text>
<line x1="396.2" y1="391.2" x2="396.2" y2="395" stroke="#444" stroke-width="1.1" />
<text x="395.2" y="407.8" font-size="13.5" fill="#353535" stroke="#353535" stroke-width="0.22" text-anchor="middle" >400</text>
<line x1="284.5" y1="256.4" x2="284.5" y2="391" stroke="#a89cd0" stroke-width="1.2" />
<text x="427" y="269.1" font-size="13.5" fill="#3e6cb0" stroke="#3e6cb0" stroke-width="0.22" text-anchor="end" >– CHX</text>
<text x="427" y="283.9" font-size="13.5" fill="#86b5e3" stroke="#86b5e3" stroke-width="0.22" text-anchor="end" >+ CHX</text>
<polyline points="240.95,256.74 241.76,262.09 242.56,279.85 243.37,258.73 244.18,261.27 244.99,263.82 245.79,267.2 246.6,250.9 247.41,255.49 248.22,252.92 249.02,270.88 249.83,277.3 250.64,284.57 251.44,275.67 252.25,304.61 253.06,255.38 253.87,261.45 254.67,268.74 255.48,260.42 256.29,275.81 257.1,273.48 257.9,266.25 258.71,296.91 259.52,263.1 260.33,275.31 261.13,276.51 261.94,298.8 262.75,300.95 263.55,271.43 264.36,295.24 265.17,301.17 265.98,286.25 266.78,267.95 267.59,312.61 268.4,271.15 269.21,271.82 270.01,265.92 270.82,287.45 271.63,274.7 272.43,252.52 273.24,270.93 274.05,283.71 274.86,283.11 275.66,283.87 276.47,266.92 277.28,270.62 278.09,281.87 278.89,267.43 279.7,288.16 280.51,284.13 281.31,271.46 282.12,280.77 282.93,280.58 283.74,287.33 284.54,292.54 285.35,294.39 286.16,301.2 286.97,305.54 287.77,307.32 288.58,310.84 289.39,312.65 290.2,315.15 291,329.04 291.81,335.98 292.62,336.81 293.42,338.71 294.23,338.7 295.04,344.64 295.85,343.77 296.65,346.04 297.46,351.49 298.27,347.77 299.08,352.42 299.88,348.91 300.69,350.85 301.5,351.53 302.3,345.91 303.11,346.69 303.92,350.71 304.73,352.23 305.53,356.04 306.34,352.19 307.15,353.19 307.96,358.2 308.76,361.98 309.57,358.81 310.38,358.86 311.19,356.91 311.99,361.9 312.8,363.45 313.61,360.6 314.41,361.31 315.22,359.94 316.03,359.6 316.84,365.51 317.64,371.1 318.45,365.97 319.26,366.76 320.07,365.02 320.87,372.46 321.68,367.84 322.49,365.91 323.29,367.8 324.1,365.7 324.91,366.38 325.72,366.62 326.52,364.03 327.33,363.64 328.14,364.13 328.95,366.45 329.75,367.7 330.56,366.83 331.37,367.3 332.17,370.31 332.98,368.13 333.79,366.09 334.6,369.33 335.4,372.09 336.21,368.23 337.02,370.72 337.83,373.76 338.63,371.24 339.44,373.89 340.25,370.23 341.06,371.54 341.86,370.8 342.67,367.88 343.48,367.51 344.28,370.99 345.09,377.74 345.9,374.74 346.71,375.58 347.51,370.57 348.32,367.42 349.13,369.21 349.94,369.87 350.74,370.09 351.55,369.77 352.36,372.41 353.16,369.73 353.97,372.02 354.78,375 355.59,372.34 356.39,367.43 357.2,371.06 358.01,376.35 358.82,369.44 359.62,370.04 360.43,369.84 361.24,372.26 362.04,370.39 362.85,366.75 363.66,371.9 364.47,369.83 365.27,369.8 366.08,373.22 366.89,371.27 367.7,369.51 368.5,373.01 369.31,368.66 370.12,373.33 370.93,368.87 371.73,368.78 372.54,370.09 373.35,373.06 374.15,373.75 374.96,377.51 375.77,372.7 376.58,371.53 377.38,369.8 378.19,368.12 379,369.98 379.81,371.93 380.61,368.8 381.42,370.63 382.23,371.42 383.03,374.53 383.84,369.53 384.65,372.68 385.46,367.06 386.26,372.78 387.07,373.71 387.88,372.05 388.69,373.83 389.49,376.43 390.3,378.35 391.11,377.9 391.92,375.66 392.72,370.36 393.53,371.07 394.34,373.6 395.14,372.5 395.95,385.69 396.76,382.36 397.57,380.44 398.37,382.52 399.18,376.49 399.99,379.84 400.8,383.08 401.6,374.94 402.41,379.55 403.22,379.52 404.02,384.63 404.83,375.53 405.64,376.71 406.45,371.61 407.25,366.81 408.06,372.72 408.87,378.94 409.68,381.98 410.48,371.91 411.29,377.36 412.1,375.78 412.9,376.62 413.71,392.82 414.52,381.49 415.33,377.67 416.13,377.53 416.94,379 417.75,377.8 418.56,382.88 419.36,377.25 420.17,380.4 420.98,378.74 421.79,371.59 422.59,376.25 423.4,383.29 424.21,378.62 425.01,385.05 425.82,380.05 426.63,372.97" fill="none" stroke="#86b5e3" stroke-width="2" stroke-linejoin="round" clip-path="url(#clipcr)"/>
<polyline points="240.95,280.25 241.76,278.12 242.56,285.47 243.37,257.68 244.18,283.87 244.99,278.05 245.79,266.26 246.6,267.88 247.41,269.55 248.22,285.53 249.02,259.94 249.83,278.02 250.64,277.2 251.44,274.34 252.25,273.64 253.06,278.28 253.87,258.83 254.67,269.34 255.48,264.51 256.29,288.89 257.1,274.23 257.9,277.77 258.71,274.37 259.52,275.51 260.33,274.24 261.13,279.61 261.94,279.76 262.75,279.26 263.55,278.69 264.36,280.77 265.17,286.12 265.98,279.28 266.78,289.65 267.59,263.05 268.4,267.28 269.21,263.04 270.01,277.43 270.82,292.83 271.63,297.51 272.43,290.86 273.24,287.91 274.05,285.66 274.86,285.43 275.66,275.95 276.47,304 277.28,271.5 278.09,282.22 278.89,281.25 279.7,298.13 280.51,283.1 281.31,282.09 282.12,281.63 282.93,284.83 283.74,289.29 284.54,293.84 285.35,294.79 286.16,295.4 286.97,292.25 287.77,294.16 288.58,294.7 289.39,288.66 290.2,294.24 291,299.52 291.81,305.08 292.62,307.56 293.42,301.15 294.23,297.99 295.04,303.98 295.85,306.66 296.65,304.85 297.46,305.03 298.27,304.59 299.08,309.21 299.88,313.65 300.69,312.29 301.5,318.24 302.3,323.02 303.11,324.4 303.92,322.4 304.73,322.65 305.53,322.01 306.34,322.1 307.15,315.79 307.96,320.35 308.76,329.83 309.57,330.31 310.38,326.2 311.19,329.03 311.99,322.03 312.8,328.57 313.61,331.38 314.41,330.92 315.22,332.66 316.03,331.61 316.84,334.33 317.64,334.17 318.45,337.4 319.26,344.97 320.07,338.38 320.87,333.44 321.68,341.15 322.49,342.29 323.29,338.4 324.1,341.67 324.91,341.17 325.72,342.12 326.52,340.31 327.33,342.26 328.14,337.28 328.95,343.15 329.75,347.16 330.56,352.52 331.37,350.54 332.17,354.13 332.98,351.6 333.79,350.4 334.6,344.09 335.4,352.38 336.21,351.92 337.02,348.29 337.83,356.34 338.63,350.51 339.44,345.13 340.25,349.9 341.06,351.91 341.86,348.72 342.67,351.03 343.48,352.13 344.28,350.92 345.09,355.74 345.9,349.46 346.71,354.51 347.51,355.28 348.32,356.3 349.13,363.16 349.94,362.09 350.74,357.82 351.55,355.99 352.36,352.45 353.16,347.35 353.97,352.12 354.78,356.19 355.59,358.58 356.39,353.15 357.2,357.81 358.01,357.76 358.82,353.46 359.62,357 360.43,358.31 361.24,357.66 362.04,362.87 362.85,359.91 363.66,358.15 364.47,357.57 365.27,359.77 366.08,365.79 366.89,363.23 367.7,357.79 368.5,361.35 369.31,362.99 370.12,359.02 370.93,358.06 371.73,359.35 372.54,358.48 373.35,357.71 374.15,358.65 374.96,359.47 375.77,355.35 376.58,363.09 377.38,355.58 378.19,359.05 379,363.61 379.81,360.29 380.61,358.43 381.42,364.98 382.23,362.76 383.03,360 383.84,359.79 384.65,362.3 385.46,366.37 386.26,364.51 387.07,357.31 387.88,365.01 388.69,355.84 389.49,362.2 390.3,364.79 391.11,366.39 391.92,364.87 392.72,364.42 393.53,368.19 394.34,360.31 395.14,360.73 395.95,363.98 396.76,369.58 397.57,368.1 398.37,366.86 399.18,363.84 399.99,365.81 400.8,369.5 401.6,367.47 402.41,366.81 403.22,366.18 404.02,363.51 404.83,367.57 405.64,371.13 406.45,363.73 407.25,362.35 408.06,368.93 408.87,364.8 409.68,367.05 410.48,364.41 411.29,364 412.1,369.86 412.9,370.39 413.71,367.68 414.52,370.82 415.33,371.28 416.13,370.39 416.94,368.25 417.75,367.68 418.56,369.76 419.36,368.87 420.17,364.43 420.98,365.36 421.79,366.44 422.59,369.94 423.4,370.88 424.21,372.62 425.01,372.08 425.82,374.82 426.63,370.8" fill="none" stroke="#3e6cb0" stroke-width="2" stroke-linejoin="round" clip-path="url(#clipcr)"/>
<text x="0" y="453.4" font-size="20.8" fill="#1a1a1a" stroke="#1a1a1a" stroke-width="0.8" font-weight="bold" >d</text>
<text x="119.9" y="469.7" font-size="13.5" fill="#353535" stroke="#353535" stroke-width="0.22" text-anchor="middle" >Elongation</text>
<text x="120.3" y="483.4" font-size="13.5" fill="#353535" stroke="#353535" stroke-width="0.22" text-anchor="middle" >rate</text>
<text x="239.8" y="469.7" font-size="13.5" fill="#353535" stroke="#353535" stroke-width="0.22" text-anchor="middle" >Targeting</text>
<text x="239.3" y="483.4" font-size="13.5" fill="#353535" stroke="#353535" stroke-width="0.22" text-anchor="middle" >rate</text>
<path d="M153.9,453.6 Q178,453.8 202.6,455.8" fill="none" stroke="#8a8a8a" stroke-width="2.3" />
<ellipse cx="178.5" cy="451.9" rx="9.2" ry="4.6" fill="#3e6db5" stroke="#1c2b4a" stroke-width="1" />
<ellipse cx="178.5" cy="460.85" rx="10.5" ry="7.85" fill="#3e6db5" stroke="#1c2b4a" stroke-width="1" />
<path d="M178.6,463.6 L175.4,468.6" fill="none" stroke="#111" stroke-width="1.6" stroke-linecap="round" fill="none"/>
<line x1="175.4" y1="471.2" x2="181.6" y2="479" stroke="#b6a8d8" stroke-width="5.6" />
<path d="M182.2,480.0 Q186.5,483 186.0,488.4" fill="none" stroke="#111" stroke-width="1.6" stroke-linecap="round" fill="none"/>
<line x1="161.8" y1="471.3" x2="152.04" y2="489.56" stroke="#8c8c8c" stroke-width="2.2" />
<polygon points="147.8,497.5 147.46,487.11 156.63,492.01" fill="#8c8c8c" stroke="none" stroke-width="0" />
<line x1="197.5" y1="471.3" x2="207.68" y2="489.9" stroke="#8c8c8c" stroke-width="2.2" />
<polygon points="212,497.8 203.12,492.4 212.24,487.41" fill="#8c8c8c" stroke="none" stroke-width="0" />
<path d="M107.2,515.6 Q128,514.2 140,516.2 T156.2,517.5" fill="none" stroke="#8a8a8a" stroke-width="2.3" />
<line x1="113.6" y1="510.7" x2="123.5" y2="510.7" stroke="#111" stroke-width="1.6" />
<polygon points="128,510.7 123.5,513.2 123.5,508.2" fill="#111" stroke="none" stroke-width="0" />
<ellipse cx="142" cy="512.8" rx="10" ry="5" fill="#3e6db5" stroke="#1c2b4a" stroke-width="1" />
<ellipse cx="142" cy="522.25" rx="11.6" ry="8.75" fill="#3e6db5" stroke="#1c2b4a" stroke-width="1" />
<path d="M142.1,525.5 Q141.3,531 141.6,536.8" fill="none" stroke="#111" stroke-width="1.6" stroke-linecap="round" fill="none"/>
<line x1="142.2" y1="537.6" x2="144.6" y2="549.8" stroke="#b6a8d8" stroke-width="5.6" />
<path d="M144.3,550.4 Q143.6,555 143.4,560.5" fill="none" stroke="#111" stroke-width="1.6" stroke-linecap="round" fill="none"/>
<line x1="167.4" y1="524.4" x2="185" y2="524.4" stroke="#8c8c8c" stroke-width="2.2" />
<polygon points="194,524.4 185,529.6 185,519.2" fill="#8c8c8c" stroke="none" stroke-width="0" />
<text x="175.9" y="540" font-size="13.5" fill="#353535" stroke="#353535" stroke-width="0.22" text-anchor="middle" >Targeting</text>
<text x="175.9" y="553.6" font-size="13.5" fill="#353535" stroke="#353535" stroke-width="0.22" text-anchor="middle" >rate</text>
<rect x="206.02" y="536.7" width="2.05" height="8.04" rx="1.03" fill="#f4f2f0" stroke="#968f89" stroke-width="0.75"/>
<rect x="206.02" y="545.76" width="2.05" height="8.04" rx="1.03" fill="#f4f2f0" stroke="#968f89" stroke-width="0.75"/>
<rect x="208.72" y="536.7" width="2.05" height="8.04" rx="1.03" fill="#f4f2f0" stroke="#968f89" stroke-width="0.75"/>
<rect x="208.72" y="545.76" width="2.05" height="8.04" rx="1.03" fill="#f4f2f0" stroke="#968f89" stroke-width="0.75"/>
<rect x="211.42" y="536.7" width="2.05" height="8.04" rx="1.03" fill="#f4f2f0" stroke="#968f89" stroke-width="0.75"/>
<rect x="211.42" y="545.76" width="2.05" height="8.04" rx="1.03" fill="#f4f2f0" stroke="#968f89" stroke-width="0.75"/>
<rect x="214.12" y="536.7" width="2.05" height="8.04" rx="1.03" fill="#f4f2f0" stroke="#968f89" stroke-width="0.75"/>
<rect x="214.12" y="545.76" width="2.05" height="8.04" rx="1.03" fill="#f4f2f0" stroke="#968f89" stroke-width="0.75"/>
<rect x="234.53" y="536.7" width="2.07" height="8.04" rx="1.03" fill="#f4f2f0" stroke="#968f89" stroke-width="0.75"/>
<rect x="234.53" y="545.76" width="2.07" height="8.04" rx="1.03" fill="#f4f2f0" stroke="#968f89" stroke-width="0.75"/>
<rect x="237.25" y="536.7" width="2.07" height="8.04" rx="1.03" fill="#f4f2f0" stroke="#968f89" stroke-width="0.75"/>
<rect x="237.25" y="545.76" width="2.07" height="8.04" rx="1.03" fill="#f4f2f0" stroke="#968f89" stroke-width="0.75"/>
<rect x="239.97" y="536.7" width="2.07" height="8.04" rx="1.03" fill="#f4f2f0" stroke="#968f89" stroke-width="0.75"/>
<rect x="239.97" y="545.76" width="2.07" height="8.04" rx="1.03" fill="#f4f2f0" stroke="#968f89" stroke-width="0.75"/>
<rect x="242.69" y="536.7" width="2.07" height="8.04" rx="1.03" fill="#f4f2f0" stroke="#968f89" stroke-width="0.75"/>
<rect x="242.69" y="545.76" width="2.07" height="8.04" rx="1.03" fill="#f4f2f0" stroke="#968f89" stroke-width="0.75"/>
<rect x="245.41" y="536.7" width="2.07" height="8.04" rx="1.03" fill="#f4f2f0" stroke="#968f89" stroke-width="0.75"/>
<rect x="245.41" y="545.76" width="2.07" height="8.04" rx="1.03" fill="#f4f2f0" stroke="#968f89" stroke-width="0.75"/>
<path d="M198.2,514.9 Q223,515.2 247.2,517.0" fill="none" stroke="#8a8a8a" stroke-width="2.3" />
<ellipse cx="223.5" cy="511.8" rx="10.2" ry="5.1" fill="#d3242b" stroke="#4a1414" stroke-width="1" />
<ellipse cx="223.5" cy="520.7" rx="11.4" ry="8.5" fill="#d3242b" stroke="#4a1414" stroke-width="1" />
<path d="M216.1,534.2 Q218.24,537.85 222.2,539.9 L222.2,551.3 Q218.24,553.35 216.1,557 Z" fill="#9ccb6c" stroke="#2e3a22" stroke-width="1" stroke-linejoin="round"/>
<path d="M233.5,534.2 Q231.37,537.85 227.4,539.9 L227.4,551.3 Q231.37,553.35 233.5,557 Z" fill="#9ccb6c" stroke="#2e3a22" stroke-width="1" stroke-linejoin="round"/>
<rect x="222.1" y="537.6" width="5.4" height="14" fill="#b6a8d8" />
<path d="M223.4,524.8 Q223.6,531 223.9,537.1" fill="none" stroke="#111" stroke-width="1.6" stroke-linecap="round" fill="none"/>
<path d="M226.6,551.5 Q225.3,556 225.0,561" fill="none" stroke="#111" stroke-width="1.6" stroke-linecap="round" fill="none"/>
<text x="0" y="594.2" font-size="20.8" fill="#1a1a1a" stroke="#1a1a1a" stroke-width="0.8" font-weight="bold" >e</text>
<path d="M39.4,591.9 Q70,593 98.5,595.1" fill="none" stroke="#8a8a8a" stroke-width="2.3" />
<ellipse cx="51.3" cy="588.4" rx="8.4" ry="4.2" fill="#3e6db5" stroke="#1c2b4a" stroke-width="1" />
<ellipse cx="51.3" cy="596.7" rx="9.6" ry="6.9" fill="#3e6db5" stroke="#1c2b4a" stroke-width="1" />
<ellipse cx="73" cy="592.2" rx="8.4" ry="4.2" fill="#3e6db5" stroke="#1c2b4a" stroke-width="1" />
<ellipse cx="73" cy="600.15" rx="9.9" ry="7.65" fill="#3e6db5" stroke="#1c2b4a" stroke-width="1" />
<path d="M71.8,603.4 Q68.8,608 70.0,611.5 Q71.5,614.5 74.5,615.3" fill="none" stroke="#111" stroke-width="1.6" stroke-linecap="round" fill="none"/>
<path d="M86.2,619.0 Q118,621 148.5,625.2" fill="none" stroke="#8a8a8a" stroke-width="2.3" />
<ellipse cx="96" cy="616.1" rx="8.6" ry="4.3" fill="#3e6db5" stroke="#1c2b4a" stroke-width="1" />
<ellipse cx="96" cy="624.15" rx="9.7" ry="7.15" fill="#3e6db5" stroke="#1c2b4a" stroke-width="1" />
<ellipse cx="117.4" cy="619.3" rx="8.6" ry="4.3" fill="#3e6db5" stroke="#1c2b4a" stroke-width="1" />
<ellipse cx="117.4" cy="628.2" rx="9.7" ry="7.2" fill="#3e6db5" stroke="#1c2b4a" stroke-width="1" />
<ellipse cx="139" cy="620.8" rx="8.6" ry="4.3" fill="#3e6db5" stroke="#1c2b4a" stroke-width="1" />
<ellipse cx="139" cy="630.25" rx="9.7" ry="7.15" fill="#3e6db5" stroke="#1c2b4a" stroke-width="1" />
<path d="M117.9,630.2 Q115.3,634 116.0,637.5 Q117,641.5 121.0,642.5" fill="none" stroke="#111" stroke-width="1.6" stroke-linecap="round" fill="none"/>
<path d="M138.3,632.3 L136.0,637.2" fill="none" stroke="#111" stroke-width="1.6" stroke-linecap="round" fill="none"/>
<line x1="134.8" y1="638.4" x2="141.9" y2="648.2" stroke="#b6a8d8" stroke-width="5.4" />
<path d="M143.2,648.4 Q146.5,651 146.5,656.8" fill="none" stroke="#111" stroke-width="1.6" stroke-linecap="round" fill="none"/>
<path d="M43.3,643.5 Q72,645 102.6,646.6" fill="none" stroke="#8a8a8a" stroke-width="2.3" />
<ellipse cx="55.5" cy="640.3" rx="8.6" ry="4.3" fill="#3e6db5" stroke="#1c2b4a" stroke-width="1" />
<ellipse cx="55.5" cy="648.6" rx="9.4" ry="7.2" fill="#3e6db5" stroke="#1c2b4a" stroke-width="1" />
<ellipse cx="77.2" cy="643.8" rx="8.6" ry="4.3" fill="#3e6db5" stroke="#1c2b4a" stroke-width="1" />
<ellipse cx="77.2" cy="652.75" rx="9.4" ry="7.25" fill="#3e6db5" stroke="#1c2b4a" stroke-width="1" />
<path d="M77.0,655.8 Q74.3,660 75.3,664.5 Q76.5,667.8 80.0,668.0" fill="none" stroke="#111" stroke-width="1.6" stroke-linecap="round" fill="none"/>
<text x="136.8" y="679.3" font-size="13.5" fill="#353535" stroke="#353535" stroke-width="0.22" text-anchor="middle" >Targeting</text>
<text x="133.2" y="692.6" font-size="13.5" fill="#353535" stroke="#353535" stroke-width="0.22" text-anchor="middle" >signal</text>
<line x1="144.6" y1="598.7" x2="227.5" y2="598.7" stroke="#8c8c8c" stroke-width="1.7" />
<polygon points="235.5,598.7 227.5,602.3 227.5,595.1" fill="#8c8c8c" stroke="none" stroke-width="0" />
<path d="M157.6,598.9 Q185,601 190.0,624.5" fill="none" stroke="#8c8c8c" stroke-width="1" />
<polygon points="190.3,628.2 187.9,622.8 192.5,622.6" fill="#8c8c8c" stroke="none" stroke-width="0" />
<text x="190.5" y="593.6" font-size="13.5" fill="#353535" stroke="#353535" stroke-width="0.22" text-anchor="middle" >+ CHX</text>
<rect x="188.2" y="653.8" width="17.8" height="9.8" fill="#ebe8e4" />
<line x1="189.15" y1="654.6" x2="189.15" y2="662.8" stroke="#b9b3ae" stroke-width="0.55" />
<line x1="191.05" y1="654.6" x2="191.05" y2="662.8" stroke="#b9b3ae" stroke-width="0.55" />
<line x1="192.95" y1="654.6" x2="192.95" y2="662.8" stroke="#b9b3ae" stroke-width="0.55" />
<line x1="194.85" y1="654.6" x2="194.85" y2="662.8" stroke="#b9b3ae" stroke-width="0.55" />
<line x1="196.75" y1="654.6" x2="196.75" y2="662.8" stroke="#b9b3ae" stroke-width="0.55" />
<line x1="198.65" y1="654.6" x2="198.65" y2="662.8" stroke="#b9b3ae" stroke-width="0.55" />
<line x1="200.55" y1="654.6" x2="200.55" y2="662.8" stroke="#b9b3ae" stroke-width="0.55" />
<line x1="202.45" y1="654.6" x2="202.45" y2="662.8" stroke="#b9b3ae" stroke-width="0.55" />
<line x1="204.35" y1="654.6" x2="204.35" y2="662.8" stroke="#b9b3ae" stroke-width="0.55" />
<line x1="188.2" y1="654.3" x2="206" y2="654.3" stroke="#a39d98" stroke-width="1" />
<line x1="188.2" y1="663.1" x2="206" y2="663.1" stroke="#a39d98" stroke-width="1" />
<line x1="188.2" y1="658.7" x2="206" y2="658.7" stroke="#d0cbc6" stroke-width="0.6" />
<rect x="213.2" y="653.8" width="17.7" height="9.8" fill="#ebe8e4" />
<line x1="214.15" y1="654.6" x2="214.15" y2="662.8" stroke="#b9b3ae" stroke-width="0.55" />
<line x1="216.05" y1="654.6" x2="216.05" y2="662.8" stroke="#b9b3ae" stroke-width="0.55" />
<line x1="217.95" y1="654.6" x2="217.95" y2="662.8" stroke="#b9b3ae" stroke-width="0.55" />
<line x1="219.85" y1="654.6" x2="219.85" y2="662.8" stroke="#b9b3ae" stroke-width="0.55" />
<line x1="221.75" y1="654.6" x2="221.75" y2="662.8" stroke="#b9b3ae" stroke-width="0.55" />
<line x1="223.65" y1="654.6" x2="223.65" y2="662.8" stroke="#b9b3ae" stroke-width="0.55" />
<line x1="225.55" y1="654.6" x2="225.55" y2="662.8" stroke="#b9b3ae" stroke-width="0.55" />
<line x1="227.45" y1="654.6" x2="227.45" y2="662.8" stroke="#b9b3ae" stroke-width="0.55" />
<line x1="229.35" y1="654.6" x2="229.35" y2="662.8" stroke="#b9b3ae" stroke-width="0.55" />
<line x1="213.2" y1="654.3" x2="230.9" y2="654.3" stroke="#a39d98" stroke-width="1" />
<line x1="213.2" y1="663.1" x2="230.9" y2="663.1" stroke="#a39d98" stroke-width="1" />
<line x1="213.2" y1="658.7" x2="230.9" y2="658.7" stroke="#d0cbc6" stroke-width="0.6" />
<path d="M183.6,641.4 Q201,642.2 219.8,643.3" fill="none" stroke="#8a8a8a" stroke-width="1.5" />
<ellipse cx="193" cy="639.1" rx="5" ry="2.5" fill="#d3242b" stroke="#4a1414" stroke-width="0.8" />
<ellipse cx="193" cy="644.55" rx="5.8" ry="4.95" fill="#d3242b" stroke="#4a1414" stroke-width="0.8" />
<ellipse cx="208.9" cy="640.3" rx="5" ry="2.5" fill="#d3242b" stroke="#4a1414" stroke-width="0.8" />
<ellipse cx="208.9" cy="646" rx="5.8" ry="5" fill="#d3242b" stroke="#4a1414" stroke-width="0.8" />
<path d="M204.4,654.3 Q205.56,656.17 207.7,657.22 L207.7,663.08 Q205.56,664.13 204.4,666 Z" fill="#9ccb6c" stroke="#2e3a22" stroke-width="0.7" stroke-linejoin="round"/>
<path d="M214.8,654.3 Q213.64,656.17 211.5,657.22 L211.5,663.08 Q213.64,664.13 214.8,666 Z" fill="#9ccb6c" stroke="#2e3a22" stroke-width="0.7" stroke-linejoin="round"/>
<rect x="207.8" y="655.5" width="3.6" height="9.5" fill="#c4b9dc" />
<path d="M209.0,648.5 L209.3,655.5" fill="none" stroke="#111" stroke-width="1" stroke-linecap="round" fill="none"/>
<path d="M210.5,665 L209.8,668" fill="none" stroke="#111" stroke-width="1" stroke-linecap="round" fill="none"/>
<text x="209.5" y="681.7" font-size="13.5" fill="#353535" stroke="#353535" stroke-width="0.22" text-anchor="middle" >Membrane</text>
<text x="205.4" y="693.7" font-size="13.5" fill="#353535" stroke="#353535" stroke-width="0.22" text-anchor="middle" >targeting</text>
<path d="M249.2,598.4 Q280,600 308.3,601.7" fill="none" stroke="#8a8a8a" stroke-width="2.3" />
<ellipse cx="261.5" cy="595.15" rx="8.7" ry="4.35" fill="#86b6e6" stroke="#24385a" stroke-width="1" />
<ellipse cx="261.5" cy="603.2" rx="9.2" ry="7.2" fill="#86b6e6" stroke="#24385a" stroke-width="1" />
<ellipse cx="283.2" cy="597.65" rx="8.5" ry="4.25" fill="#86b6e6" stroke="#24385a" stroke-width="1" />
<ellipse cx="283.2" cy="607.2" rx="10" ry="7.2" fill="#86b6e6" stroke="#24385a" stroke-width="1" />
<path d="M283.1,609.8 Q280.8,614 282.2,617.8 Q284,621.5 287.3,622.3" fill="none" stroke="#111" stroke-width="1.6" stroke-linecap="round" fill="none"/>
<path d="M256.4,636.5 Q286,638 315.5,640.0" fill="none" stroke="#8a8a8a" stroke-width="2.3" />
<ellipse cx="268.8" cy="633.35" rx="8.7" ry="4.35" fill="#86b6e6" stroke="#24385a" stroke-width="1" />
<ellipse cx="268.8" cy="641.3" rx="9.2" ry="7.2" fill="#86b6e6" stroke="#24385a" stroke-width="1" />
<ellipse cx="290.4" cy="636.55" rx="8.5" ry="4.25" fill="#86b6e6" stroke="#24385a" stroke-width="1" />
<ellipse cx="290.4" cy="645.3" rx="10" ry="7.2" fill="#86b6e6" stroke="#24385a" stroke-width="1" />
<path d="M290.6,647.3 Q288,651.5 289.2,655.5 Q290.8,659.5 293.9,660.4" fill="none" stroke="#111" stroke-width="1.6" stroke-linecap="round" fill="none"/>
<text x="346" y="445.5" font-size="20.8" fill="#1a1a1a" stroke="#1a1a1a" stroke-width="0.8" font-weight="bold" >f</text>
<text x="480.3" y="441" font-size="13.5" fill="#353535" stroke="#353535" stroke-width="0.22" text-anchor="middle" >More time</text>
<polyline points="449.8,448.3 449.8,453.7" fill="none" stroke="#999" stroke-width="1.1" stroke-linejoin="round" />
<polyline points="510.3,448.3 510.3,453.7" fill="none" stroke="#999" stroke-width="1.1" stroke-linejoin="round" />
<line x1="449.8" y1="451" x2="510.3" y2="451" stroke="#999" stroke-width="1.3" />
<path d="M405.7,462 Q440,466 468,467 Q488,467 498,462 Q505,460.6 509.5,460.7" fill="none" stroke="#8a8a8a" stroke-width="2.3" />
<ellipse cx="415.2" cy="457.3" rx="8.6" ry="4.3" fill="#3e6db5" stroke="#1c2b4a" stroke-width="1" />
<ellipse cx="415.2" cy="464.5" rx="9.3" ry="7.3" fill="#3e6db5" stroke="#1c2b4a" stroke-width="1" />
<ellipse cx="436.7" cy="461.1" rx="8.6" ry="4.3" fill="#3e6db5" stroke="#1c2b4a" stroke-width="1" />
<ellipse cx="436.7" cy="468.6" rx="9.3" ry="7.4" fill="#3e6db5" stroke="#1c2b4a" stroke-width="1" />
<ellipse cx="458.2" cy="463.7" rx="8.6" ry="4.3" fill="#3e6db5" stroke="#1c2b4a" stroke-width="1" />
<ellipse cx="458.2" cy="471.25" rx="9.3" ry="7.35" fill="#3e6db5" stroke="#1c2b4a" stroke-width="1" />
<path d="M437.2,472.5 Q434.8,477 436.0,481 Q438,486.5 441.2,488.3" fill="none" stroke="#111" stroke-width="1.6" stroke-linecap="round" fill="none"/>
<path d="M458.2,473.9 L455.8,479.0" fill="none" stroke="#111" stroke-width="1.6" stroke-linecap="round" fill="none"/>
<line x1="454.9" y1="480.6" x2="461.4" y2="489.8" stroke="#b6a8d8" stroke-width="5.8" />
<path d="M462.4,490.8 Q466.8,493.5 466.3,498.3" fill="none" stroke="#111" stroke-width="1.6" stroke-linecap="round" fill="none"/>
<rect x="589.8" y="451.3" width="35.4" height="49.4" fill="#e8e8ec" />
<text x="607.2" y="440.5" font-size="13.5" fill="#353535" stroke="#353535" stroke-width="0.22" text-anchor="middle" >Less time</text>
<polyline points="590.3,447.7 590.3,452.5" fill="none" stroke="#999" stroke-width="1.1" stroke-linejoin="round" />
<polyline points="624.8,447.7 624.8,452.5" fill="none" stroke="#999" stroke-width="1.1" stroke-linejoin="round" />
<line x1="590.3" y1="450.1" x2="624.8" y2="450.1" stroke="#999" stroke-width="1.3" />
<path d="M547.7,463.4 Q585,464 623.6,464.1" fill="none" stroke="#8a8a8a" stroke-width="2.3" />
<ellipse cx="556.1" cy="456.3" rx="8.6" ry="4.3" fill="#3e6db5" stroke="#1c2b4a" stroke-width="1" />
<ellipse cx="556.1" cy="464.6" rx="9.6" ry="7.2" fill="#3e6db5" stroke="#1c2b4a" stroke-width="1" />
<ellipse cx="578.3" cy="459.9" rx="8.6" ry="4.3" fill="#3e6db5" stroke="#1c2b4a" stroke-width="1" />
<ellipse cx="578.3" cy="468.2" rx="9.6" ry="7.2" fill="#3e6db5" stroke="#1c2b4a" stroke-width="1" />
<ellipse cx="599.5" cy="461.6" rx="8.6" ry="4.3" fill="#3e6db5" stroke="#1c2b4a" stroke-width="1" />
<ellipse cx="599.5" cy="470.1" rx="9.6" ry="7.2" fill="#3e6db5" stroke="#1c2b4a" stroke-width="1" />
<path d="M577.8,471.8 Q576.5,476 577.8,480.2 Q579.5,485 582.6,486.2" fill="none" stroke="#111" stroke-width="1.6" stroke-linecap="round" fill="none"/>
<path d="M599.5,474.2 L596.0,477.8" fill="none" stroke="#111" stroke-width="1.6" stroke-linecap="round" fill="none"/>
<line x1="595.4" y1="479" x2="601.6" y2="488.4" stroke="#b6a8d8" stroke-width="5.8" />
<path d="M602.8,489.4 Q607.2,492.5 607.2,497.6" fill="none" stroke="#111" stroke-width="1.6" stroke-linecap="round" fill="none"/>
<circle cx="381.3" cy="488.2" r="2.9" fill="#d0212b" stroke="none" stroke-width="0" />
<text x="385.4" y="492.6" font-size="13.5" fill="#353535" stroke="#353535" stroke-width="0.22" >TMD</text>
<circle cx="381.3" cy="502" r="2.6" fill="#808080" stroke="#3a3a3a" stroke-width="1" />
<text x="385.2" y="505.6" font-size="13.5" fill="#353535" stroke="#353535" stroke-width="0.22" >SS</text>
<rect x="580.3" y="508" width="57.4" height="156.3" fill="#ebebef" />
<line x1="580.3" y1="508" x2="580.3" y2="664.3" stroke="#d4d4d8" stroke-width="1" />
<line x1="637.8" y1="508" x2="637.8" y2="664.3" stroke="#7a7a7a" stroke-width="1.3" stroke-dasharray="3.4,2.4"/>
<line x1="380.5" y1="640.6" x2="664.6" y2="640.6" stroke="#444" stroke-width="1.25" stroke-dasharray="2.6,2.4"/>
<line x1="379.3" y1="508" x2="379.3" y2="664.8" stroke="#444" stroke-width="1.1" />
<line x1="379.3" y1="664.3" x2="665.3" y2="664.3" stroke="#444" stroke-width="1.1" />
<line x1="375.1" y1="540.2" x2="379.3" y2="540.2" stroke="#444" stroke-width="1.1" />
<text x="373.7" y="545" font-size="13.5" fill="#353535" stroke="#353535" stroke-width="0.22" text-anchor="end" >6</text>
<line x1="375.1" y1="573.6" x2="379.3" y2="573.6" stroke="#444" stroke-width="1.1" />
<text x="373.7" y="578.4" font-size="13.5" fill="#353535" stroke="#353535" stroke-width="0.22" text-anchor="end" >4</text>
<line x1="375.1" y1="607" x2="379.3" y2="607" stroke="#444" stroke-width="1.1" />
<text x="373.7" y="611.8" font-size="13.5" fill="#353535" stroke="#353535" stroke-width="0.22" text-anchor="end" >2</text>
<line x1="375.1" y1="640.4" x2="379.3" y2="640.4" stroke="#444" stroke-width="1.1" />
<text x="373.7" y="645.2" font-size="13.5" fill="#353535" stroke="#353535" stroke-width="0.22" text-anchor="end" >0</text>
<line x1="434.3" y1="664.3" x2="434.3" y2="668.2" stroke="#444" stroke-width="1.1" />
<text x="434.3" y="681.4" font-size="13.5" fill="#353535" stroke="#353535" stroke-width="0.22" text-anchor="middle" >750</text>
<line x1="506.8" y1="664.3" x2="506.8" y2="668.2" stroke="#444" stroke-width="1.1" />
<text x="506.8" y="681.4" font-size="13.5" fill="#353535" stroke="#353535" stroke-width="0.22" text-anchor="middle" >500</text>
<line x1="579.3" y1="664.3" x2="579.3" y2="668.2" stroke="#444" stroke-width="1.1" />
<text x="579.3" y="681.4" font-size="13.5" fill="#353535" stroke="#353535" stroke-width="0.22" text-anchor="middle" >250</text>
<line x1="651.8" y1="664.3" x2="651.8" y2="668.2" stroke="#444" stroke-width="1.1" />
<text x="651.8" y="681.4" font-size="13.5" fill="#353535" stroke="#353535" stroke-width="0.22" text-anchor="middle" >0</text>
<text x="376.8" y="702.4" font-size="13.5" fill="#353535" stroke="#353535" stroke-width="0.22" textLength="288">Codons between 1st SS/TMD and stop codons</text>
<text x="361.3" y="588.3" font-size="13.5" fill="#353535" stroke="#353535" stroke-width="0.22" text-anchor="middle" transform="rotate(-90 361.3 588.3)" >log<tspan font-size="9" dy="3">2</tspan><tspan dy="-3"> membrane enrichment</tspan></text>
<text x="642.2" y="544.9" font-size="13.5" fill="#353535" stroke="#353535" stroke-width="0.22" >PMP1</text>
<text x="642.2" y="578.4" font-size="13.5" fill="#353535" stroke="#353535" stroke-width="0.22" >PMP2</text>
<polygon points="642.8,547 645.4,548.4 643,550" fill="#111" stroke="none" stroke-width="0" />
<polygon points="642.8,563.6 645.4,565 643,566.6" fill="#111" stroke="none" stroke-width="0" />
<circle cx="419.1" cy="520.5" r="2.2" fill="#d0212b" stroke="#b31c24" stroke-width="0.3" />
<circle cx="430.8" cy="524.9" r="2.2" fill="#d0212b" stroke="#b31c24" stroke-width="0.3" />
<circle cx="431.4" cy="528.4" r="2.2" fill="#d0212b" stroke="#b31c24" stroke-width="0.3" />
<circle cx="423.8" cy="530.7" r="2.2" fill="#d0212b" stroke="#b31c24" stroke-width="0.3" />
<circle cx="417.1" cy="542.4" r="2.2" fill="#d0212b" stroke="#b31c24" stroke-width="0.3" />
<circle cx="417.4" cy="545.3" r="2.2" fill="#d0212b" stroke="#b31c24" stroke-width="0.3" />
<circle cx="405.7" cy="552.3" r="2.2" fill="#d0212b" stroke="#b31c24" stroke-width="0.3" />
<circle cx="392.8" cy="555.2" r="2.2" fill="#d0212b" stroke="#b31c24" stroke-width="0.3" />
<circle cx="413.3" cy="557" r="2.2" fill="#d0212b" stroke="#b31c24" stroke-width="0.3" />
<circle cx="443.6" cy="540.6" r="2.2" fill="#d0212b" stroke="#b31c24" stroke-width="0.3" />
<circle cx="447.7" cy="542.4" r="2.2" fill="#d0212b" stroke="#b31c24" stroke-width="0.3" />
<circle cx="450.1" cy="540" r="2.2" fill="#d0212b" stroke="#b31c24" stroke-width="0.3" />
<circle cx="449.5" cy="546.5" r="2.2" fill="#d0212b" stroke="#b31c24" stroke-width="0.3" />
<circle cx="433.7" cy="562.2" r="2.2" fill="#d0212b" stroke="#b31c24" stroke-width="0.3" />
<circle cx="459.4" cy="560.5" r="2.2" fill="#d0212b" stroke="#b31c24" stroke-width="0.3" />
<circle cx="433.8" cy="562.3" r="2.2" fill="#d0212b" stroke="#b31c24" stroke-width="0.3" />
<circle cx="424.1" cy="566.5" r="2.2" fill="#d0212b" stroke="#b31c24" stroke-width="0.3" />
<circle cx="418.5" cy="568.9" r="2.2" fill="#d0212b" stroke="#b31c24" stroke-width="0.3" />
<circle cx="437.7" cy="578.2" r="2.2" fill="#d0212b" stroke="#b31c24" stroke-width="0.3" />
<circle cx="459.5" cy="588.1" r="2.2" fill="#d0212b" stroke="#b31c24" stroke-width="0.3" />
<circle cx="459.5" cy="568.6" r="2.2" fill="#d0212b" stroke="#b31c24" stroke-width="0.3" />
<circle cx="458.8" cy="560.8" r="2.2" fill="#d0212b" stroke="#b31c24" stroke-width="0.3" />
<circle cx="418.5" cy="625.2" r="2.2" fill="#d0212b" stroke="#b31c24" stroke-width="0.3" />
<circle cx="425.2" cy="632.5" r="2.2" fill="#d0212b" stroke="#b31c24" stroke-width="0.3" />
<circle cx="480.1" cy="522.5" r="2.2" fill="#d0212b" stroke="#b31c24" stroke-width="0.3" />
<circle cx="491.2" cy="520.8" r="2.2" fill="#d0212b" stroke="#b31c24" stroke-width="0.3" />
<circle cx="463.2" cy="527.8" r="2.2" fill="#d0212b" stroke="#b31c24" stroke-width="0.3" />
<circle cx="464.9" cy="535.9" r="2.2" fill="#d0212b" stroke="#b31c24" stroke-width="0.3" />
<circle cx="478.4" cy="535.9" r="2.2" fill="#d0212b" stroke="#b31c24" stroke-width="0.3" />
<circle cx="495.3" cy="526" r="2.2" fill="#d0212b" stroke="#b31c24" stroke-width="0.3" />
<circle cx="509.9" cy="529" r="2.2" fill="#d0212b" stroke="#b31c24" stroke-width="0.3" />
<circle cx="526.8" cy="521.9" r="2.2" fill="#d0212b" stroke="#b31c24" stroke-width="0.3" />
<circle cx="530.9" cy="534.8" r="2.2" fill="#d0212b" stroke="#b31c24" stroke-width="0.3" />
<circle cx="488.9" cy="533.6" r="2.2" fill="#d0212b" stroke="#b31c24" stroke-width="0.3" />
<circle cx="499.4" cy="536.5" r="2.2" fill="#d0212b" stroke="#b31c24" stroke-width="0.3" />
<circle cx="471.4" cy="546.5" r="2.2" fill="#d0212b" stroke="#b31c24" stroke-width="0.3" />
<circle cx="471.4" cy="548.8" r="2.2" fill="#d0212b" stroke="#b31c24" stroke-width="0.3" />
<circle cx="486.5" cy="551.7" r="2.2" fill="#d0212b" stroke="#b31c24" stroke-width="0.3" />
<circle cx="492.4" cy="544.7" r="2.2" fill="#d0212b" stroke="#b31c24" stroke-width="0.3" />
<circle cx="490" cy="541.2" r="2.2" fill="#d0212b" stroke="#b31c24" stroke-width="0.3" />
<circle cx="493.5" cy="548.2" r="2.2" fill="#d0212b" stroke="#b31c24" stroke-width="0.3" />
<circle cx="484.2" cy="543.5" r="2.2" fill="#d0212b" stroke="#b31c24" stroke-width="0.3" />
<circle cx="504" cy="545.9" r="2.2" fill="#d0212b" stroke="#b31c24" stroke-width="0.3" />
<circle cx="506.4" cy="549.4" r="2.2" fill="#d0212b" stroke="#b31c24" stroke-width="0.3" />
<circle cx="511.1" cy="545.3" r="2.2" fill="#d0212b" stroke="#b31c24" stroke-width="0.3" />
<circle cx="514.6" cy="549.4" r="2.2" fill="#d0212b" stroke="#b31c24" stroke-width="0.3" />
<circle cx="518.1" cy="550.5" r="2.2" fill="#d0212b" stroke="#b31c24" stroke-width="0.3" />
<circle cx="521.6" cy="543.5" r="2.2" fill="#d0212b" stroke="#b31c24" stroke-width="0.3" />
<circle cx="525.1" cy="545.9" r="2.2" fill="#d0212b" stroke="#b31c24" stroke-width="0.3" />
<circle cx="527.4" cy="549.4" r="2.2" fill="#d0212b" stroke="#b31c24" stroke-width="0.3" />
<circle cx="529.7" cy="544.7" r="2.2" fill="#d0212b" stroke="#b31c24" stroke-width="0.3" />
<circle cx="511.1" cy="541.2" r="2.2" fill="#d0212b" stroke="#b31c24" stroke-width="0.3" />
<circle cx="523.9" cy="540" r="2.2" fill="#d0212b" stroke="#b31c24" stroke-width="0.3" />
<circle cx="504" cy="556.4" r="2.2" fill="#d0212b" stroke="#b31c24" stroke-width="0.3" />
<circle cx="499.4" cy="558.1" r="2.2" fill="#d0212b" stroke="#b31c24" stroke-width="0.3" />
<circle cx="494.7" cy="559.3" r="2.2" fill="#d0212b" stroke="#b31c24" stroke-width="0.3" />
<circle cx="459.7" cy="561.1" r="2.2" fill="#d0212b" stroke="#b31c24" stroke-width="0.3" />
<circle cx="463.8" cy="562.2" r="2.2" fill="#d0212b" stroke="#b31c24" stroke-width="0.3" />
<circle cx="480.7" cy="559.9" r="2.2" fill="#d0212b" stroke="#b31c24" stroke-width="0.3" />
<circle cx="505.2" cy="563.4" r="2.2" fill="#d0212b" stroke="#b31c24" stroke-width="0.3" />
<circle cx="518.1" cy="562.2" r="2.2" fill="#d0212b" stroke="#b31c24" stroke-width="0.3" />
<circle cx="525.1" cy="558.7" r="2.2" fill="#d0212b" stroke="#b31c24" stroke-width="0.3" />
<circle cx="530.9" cy="559.9" r="2.2" fill="#d0212b" stroke="#b31c24" stroke-width="0.3" />
<circle cx="508.7" cy="540" r="2.2" fill="#d0212b" stroke="#b31c24" stroke-width="0.3" />
<circle cx="513.4" cy="554" r="2.2" fill="#d0212b" stroke="#b31c24" stroke-width="0.3" />
<circle cx="520.4" cy="554" r="2.2" fill="#d0212b" stroke="#b31c24" stroke-width="0.3" />
<circle cx="506.4" cy="533.6" r="2.2" fill="#d0212b" stroke="#b31c24" stroke-width="0.3" />
<circle cx="520.4" cy="530.1" r="2.2" fill="#d0212b" stroke="#b31c24" stroke-width="0.3" />
<circle cx="493.5" cy="534.2" r="2.2" fill="#d0212b" stroke="#b31c24" stroke-width="0.3" />
<circle cx="459.7" cy="561.6" r="2.2" fill="#d0212b" stroke="#b31c24" stroke-width="0.3" />
<circle cx="463.6" cy="562.3" r="2.2" fill="#d0212b" stroke="#b31c24" stroke-width="0.3" />
<circle cx="460.9" cy="568.6" r="2.2" fill="#d0212b" stroke="#b31c24" stroke-width="0.3" />
<circle cx="472.9" cy="577.2" r="2.2" fill="#d0212b" stroke="#b31c24" stroke-width="0.3" />
<circle cx="480" cy="577.2" r="2.2" fill="#d0212b" stroke="#b31c24" stroke-width="0.3" />
<circle cx="480.7" cy="570.1" r="2.2" fill="#d0212b" stroke="#b31c24" stroke-width="0.3" />
<circle cx="484.6" cy="569.4" r="2.2" fill="#d0212b" stroke="#b31c24" stroke-width="0.3" />
<circle cx="487.7" cy="581.1" r="2.2" fill="#d0212b" stroke="#b31c24" stroke-width="0.3" />
<circle cx="459.7" cy="588.1" r="2.2" fill="#d0212b" stroke="#b31c24" stroke-width="0.3" />
<circle cx="462.5" cy="592" r="2.2" fill="#d0212b" stroke="#b31c24" stroke-width="0.3" />
<circle cx="483.1" cy="594.3" r="2.2" fill="#d0212b" stroke="#b31c24" stroke-width="0.3" />
<circle cx="488.5" cy="592" r="2.2" fill="#d0212b" stroke="#b31c24" stroke-width="0.3" />
<circle cx="504.1" cy="564.7" r="2.2" fill="#d0212b" stroke="#b31c24" stroke-width="0.3" />
<circle cx="504.9" cy="561.6" r="2.2" fill="#d0212b" stroke="#b31c24" stroke-width="0.3" />
<circle cx="511.9" cy="570.1" r="2.2" fill="#d0212b" stroke="#b31c24" stroke-width="0.3" />
<circle cx="514.3" cy="573.3" r="2.2" fill="#d0212b" stroke="#b31c24" stroke-width="0.3" />
<circle cx="517.4" cy="573.3" r="2.2" fill="#d0212b" stroke="#b31c24" stroke-width="0.3" />
<circle cx="516.6" cy="566.2" r="2.2" fill="#d0212b" stroke="#b31c24" stroke-width="0.3" />
<circle cx="518.9" cy="563.1" r="2.2" fill="#d0212b" stroke="#b31c24" stroke-width="0.3" />
<circle cx="503.3" cy="579.5" r="2.2" fill="#d0212b" stroke="#b31c24" stroke-width="0.3" />
<circle cx="506.5" cy="578.7" r="2.2" fill="#d0212b" stroke="#b31c24" stroke-width="0.3" />
<circle cx="512.7" cy="584.2" r="2.2" fill="#d0212b" stroke="#b31c24" stroke-width="0.3" />
<circle cx="517.4" cy="581.1" r="2.2" fill="#d0212b" stroke="#b31c24" stroke-width="0.3" />
<circle cx="507.2" cy="588.8" r="2.2" fill="#d0212b" stroke="#b31c24" stroke-width="0.3" />
<circle cx="508" cy="591.2" r="2.2" fill="#d0212b" stroke="#b31c24" stroke-width="0.3" />
<circle cx="517.4" cy="591.2" r="2.2" fill="#d0212b" stroke="#b31c24" stroke-width="0.3" />
<circle cx="508" cy="596.6" r="2.2" fill="#d0212b" stroke="#b31c24" stroke-width="0.3" />
<circle cx="525.2" cy="578.7" r="2.2" fill="#d0212b" stroke="#b31c24" stroke-width="0.3" />
<circle cx="531.4" cy="577.2" r="2.2" fill="#d0212b" stroke="#b31c24" stroke-width="0.3" />
<circle cx="533" cy="586.5" r="2.2" fill="#d0212b" stroke="#b31c24" stroke-width="0.3" />
<circle cx="529.9" cy="593.5" r="2.2" fill="#d0212b" stroke="#b31c24" stroke-width="0.3" />
<circle cx="533" cy="599" r="2.2" fill="#d0212b" stroke="#b31c24" stroke-width="0.3" />
<circle cx="525.2" cy="606.8" r="2.2" fill="#d0212b" stroke="#b31c24" stroke-width="0.3" />
<circle cx="529.9" cy="610.7" r="2.2" fill="#d0212b" stroke="#b31c24" stroke-width="0.3" />
<circle cx="533.8" cy="609.9" r="2.2" fill="#d0212b" stroke="#b31c24" stroke-width="0.3" />
<circle cx="499.4" cy="613.8" r="2.2" fill="#d0212b" stroke="#b31c24" stroke-width="0.3" />
<circle cx="509.6" cy="628.6" r="2.2" fill="#d0212b" stroke="#b31c24" stroke-width="0.3" />
<circle cx="488.1" cy="633.6" r="2.2" fill="#d0212b" stroke="#b31c24" stroke-width="0.3" />
<circle cx="518.2" cy="643.4" r="2.2" fill="#d0212b" stroke="#b31c24" stroke-width="0.3" />
<circle cx="531.4" cy="566.2" r="2.2" fill="#d0212b" stroke="#b31c24" stroke-width="0.3" />
<circle cx="555" cy="533.6" r="2.2" fill="#d0212b" stroke="#b31c24" stroke-width="0.3" />
<circle cx="531.5" cy="535.1" r="2.2" fill="#d0212b" stroke="#b31c24" stroke-width="0.3" />
<circle cx="537.2" cy="538.7" r="2.2" fill="#d0212b" stroke="#b31c24" stroke-width="0.3" />
<circle cx="557.1" cy="539.7" r="2.2" fill="#d0212b" stroke="#b31c24" stroke-width="0.3" />
<circle cx="569.9" cy="539.2" r="2.2" fill="#d0212b" stroke="#b31c24" stroke-width="0.3" />
<circle cx="574.5" cy="541.3" r="2.2" fill="#d0212b" stroke="#b31c24" stroke-width="0.3" />
<circle cx="581.1" cy="545.4" r="2.2" fill="#d0212b" stroke="#b31c24" stroke-width="0.3" />
<circle cx="582.1" cy="549.5" r="2.2" fill="#d0212b" stroke="#b31c24" stroke-width="0.3" />
<circle cx="580.6" cy="552.5" r="2.2" fill="#d0212b" stroke="#b31c24" stroke-width="0.3" />
<circle cx="563.2" cy="545.9" r="2.2" fill="#d0212b" stroke="#b31c24" stroke-width="0.3" />
<circle cx="567.3" cy="546.9" r="2.2" fill="#d0212b" stroke="#b31c24" stroke-width="0.3" />
<circle cx="566.8" cy="552.5" r="2.2" fill="#d0212b" stroke="#b31c24" stroke-width="0.3" />
<circle cx="571.4" cy="554.6" r="2.2" fill="#d0212b" stroke="#b31c24" stroke-width="0.3" />
<circle cx="535.6" cy="550.5" r="2.2" fill="#d0212b" stroke="#b31c24" stroke-width="0.3" />
<circle cx="538.7" cy="551.5" r="2.2" fill="#d0212b" stroke="#b31c24" stroke-width="0.3" />
<circle cx="544.3" cy="550" r="2.2" fill="#d0212b" stroke="#b31c24" stroke-width="0.3" />
<circle cx="545.3" cy="553" r="2.2" fill="#d0212b" stroke="#b31c24" stroke-width="0.3" />
<circle cx="543.3" cy="555.1" r="2.2" fill="#d0212b" stroke="#b31c24" stroke-width="0.3" />
<circle cx="553.5" cy="547.9" r="2.2" fill="#d0212b" stroke="#b31c24" stroke-width="0.3" />
<circle cx="554" cy="552" r="2.2" fill="#d0212b" stroke="#b31c24" stroke-width="0.3" />
<circle cx="556.1" cy="551.5" r="2.2" fill="#d0212b" stroke="#b31c24" stroke-width="0.3" />
<circle cx="552" cy="555.1" r="2.2" fill="#d0212b" stroke="#b31c24" stroke-width="0.3" />
<circle cx="557.1" cy="557.6" r="2.2" fill="#d0212b" stroke="#b31c24" stroke-width="0.3" />
<circle cx="549.4" cy="560.2" r="2.2" fill="#d0212b" stroke="#b31c24" stroke-width="0.3" />
<circle cx="553" cy="560.7" r="2.2" fill="#d0212b" stroke="#b31c24" stroke-width="0.3" />
<circle cx="538.7" cy="561.2" r="2.2" fill="#d0212b" stroke="#b31c24" stroke-width="0.3" />
<circle cx="536.1" cy="558.6" r="2.2" fill="#d0212b" stroke="#b31c24" stroke-width="0.3" />
<circle cx="561.7" cy="557.1" r="2.2" fill="#d0212b" stroke="#b31c24" stroke-width="0.3" />
<circle cx="562.7" cy="561.2" r="2.2" fill="#d0212b" stroke="#b31c24" stroke-width="0.3" />
<circle cx="577" cy="559.2" r="2.2" fill="#d0212b" stroke="#b31c24" stroke-width="0.3" />
<circle cx="580.6" cy="560.2" r="2.2" fill="#d0212b" stroke="#b31c24" stroke-width="0.3" />
<circle cx="530.5" cy="547.9" r="2.2" fill="#d0212b" stroke="#b31c24" stroke-width="0.3" />
<circle cx="530.5" cy="550" r="2.2" fill="#d0212b" stroke="#b31c24" stroke-width="0.3" />
<circle cx="532.3" cy="563.1" r="2.2" fill="#d0212b" stroke="#b31c24" stroke-width="0.3" />
<circle cx="533.1" cy="569.4" r="2.2" fill="#d0212b" stroke="#b31c24" stroke-width="0.3" />
<circle cx="539.4" cy="572.5" r="2.2" fill="#d0212b" stroke="#b31c24" stroke-width="0.3" />
<circle cx="543.3" cy="577.9" r="2.2" fill="#d0212b" stroke="#b31c24" stroke-width="0.3" />
<circle cx="549.5" cy="575.6" r="2.2" fill="#d0212b" stroke="#b31c24" stroke-width="0.3" />
<circle cx="552.6" cy="574.8" r="2.2" fill="#d0212b" stroke="#b31c24" stroke-width="0.3" />
<circle cx="552.6" cy="568.6" r="2.2" fill="#d0212b" stroke="#b31c24" stroke-width="0.3" />
<circle cx="557.3" cy="573.3" r="2.2" fill="#d0212b" stroke="#b31c24" stroke-width="0.3" />
<circle cx="561.2" cy="571.7" r="2.2" fill="#d0212b" stroke="#b31c24" stroke-width="0.3" />
<circle cx="564.3" cy="570.9" r="2.2" fill="#d0212b" stroke="#b31c24" stroke-width="0.3" />
<circle cx="567.4" cy="567" r="2.2" fill="#d0212b" stroke="#b31c24" stroke-width="0.3" />
<circle cx="572.9" cy="571.7" r="2.2" fill="#d0212b" stroke="#b31c24" stroke-width="0.3" />
<circle cx="578.3" cy="575.6" r="2.2" fill="#d0212b" stroke="#b31c24" stroke-width="0.3" />
<circle cx="576.8" cy="581.8" r="2.2" fill="#d0212b" stroke="#b31c24" stroke-width="0.3" />
<circle cx="532.3" cy="586.5" r="2.2" fill="#d0212b" stroke="#b31c24" stroke-width="0.3" />
<circle cx="547.9" cy="586.5" r="2.2" fill="#d0212b" stroke="#b31c24" stroke-width="0.3" />
<circle cx="547.9" cy="593.5" r="2.2" fill="#d0212b" stroke="#b31c24" stroke-width="0.3" />
<circle cx="542.2" cy="595.9" r="2.2" fill="#d0212b" stroke="#b31c24" stroke-width="0.3" />
<circle cx="530.8" cy="592.7" r="2.2" fill="#d0212b" stroke="#b31c24" stroke-width="0.3" />
<circle cx="533.1" cy="599.8" r="2.2" fill="#d0212b" stroke="#b31c24" stroke-width="0.3" />
<circle cx="564.6" cy="588.1" r="2.2" fill="#d0212b" stroke="#b31c24" stroke-width="0.3" />
<circle cx="570.5" cy="588.1" r="2.2" fill="#d0212b" stroke="#b31c24" stroke-width="0.3" />
<circle cx="570.2" cy="595.5" r="2.2" fill="#d0212b" stroke="#b31c24" stroke-width="0.3" />
<circle cx="567.1" cy="606" r="2.2" fill="#d0212b" stroke="#b31c24" stroke-width="0.3" />
<circle cx="534.4" cy="609.9" r="2.2" fill="#d0212b" stroke="#b31c24" stroke-width="0.3" />
<circle cx="530.8" cy="611.5" r="2.2" fill="#d0212b" stroke="#b31c24" stroke-width="0.3" />
<circle cx="581.5" cy="588.1" r="2.2" fill="#d0212b" stroke="#b31c24" stroke-width="0.3" />
<circle cx="584.6" cy="587.8" r="2.2" fill="#d0212b" stroke="#b31c24" stroke-width="0.3" />
<circle cx="590.8" cy="586.5" r="2.2" fill="#d0212b" stroke="#b31c24" stroke-width="0.3" />
<circle cx="595.5" cy="591.2" r="2.2" fill="#d0212b" stroke="#b31c24" stroke-width="0.3" />
<circle cx="597.8" cy="595.9" r="2.2" fill="#d0212b" stroke="#b31c24" stroke-width="0.3" />
<circle cx="584.6" cy="602.1" r="2.2" fill="#d0212b" stroke="#b31c24" stroke-width="0.3" />
<circle cx="589.2" cy="602.1" r="2.2" fill="#d0212b" stroke="#b31c24" stroke-width="0.3" />
<circle cx="581.5" cy="609.9" r="2.2" fill="#d0212b" stroke="#b31c24" stroke-width="0.3" />
<circle cx="595.5" cy="608.3" r="2.2" fill="#d0212b" stroke="#b31c24" stroke-width="0.3" />
<circle cx="594.7" cy="616.1" r="2.2" fill="#d0212b" stroke="#b31c24" stroke-width="0.3" />
<circle cx="583.8" cy="620.8" r="2.2" fill="#d0212b" stroke="#b31c24" stroke-width="0.3" />
<circle cx="597.8" cy="623.9" r="2.2" fill="#d0212b" stroke="#b31c24" stroke-width="0.3" />
<circle cx="579.9" cy="634.1" r="2.2" fill="#d0212b" stroke="#b31c24" stroke-width="0.3" />
<circle cx="584.6" cy="632.5" r="2.2" fill="#d0212b" stroke="#b31c24" stroke-width="0.3" />
<circle cx="536.5" cy="638" r="2.2" fill="#d0212b" stroke="#b31c24" stroke-width="0.3" />
<circle cx="547.9" cy="644.2" r="2.2" fill="#d0212b" stroke="#b31c24" stroke-width="0.3" />
<circle cx="585.3" cy="645" r="2.2" fill="#d0212b" stroke="#b31c24" stroke-width="0.3" />
<circle cx="596.7" cy="647.6" r="2.2" fill="#d0212b" stroke="#b31c24" stroke-width="0.3" />
<circle cx="598.6" cy="636.4" r="2.2" fill="#d0212b" stroke="#b31c24" stroke-width="0.3" />
<circle cx="591.6" cy="569.4" r="2.2" fill="#d0212b" stroke="#b31c24" stroke-width="0.3" />
<circle cx="597" cy="580.3" r="2.2" fill="#d0212b" stroke="#b31c24" stroke-width="0.3" />
<circle cx="590.8" cy="567" r="2.2" fill="#d0212b" stroke="#b31c24" stroke-width="0.3" />
<circle cx="597.8" cy="578.7" r="2.2" fill="#d0212b" stroke="#b31c24" stroke-width="0.3" />
<circle cx="602.4" cy="576.8" r="2.2" fill="#d0212b" stroke="#b31c24" stroke-width="0.3" />
<circle cx="605.1" cy="580.5" r="2.2" fill="#d0212b" stroke="#b31c24" stroke-width="0.3" />
<circle cx="600.5" cy="584.2" r="2.2" fill="#d0212b" stroke="#b31c24" stroke-width="0.3" />
<circle cx="598.7" cy="591.6" r="2.2" fill="#d0212b" stroke="#b31c24" stroke-width="0.3" />
<circle cx="605.1" cy="591.6" r="2.2" fill="#d0212b" stroke="#b31c24" stroke-width="0.3" />
<circle cx="602.4" cy="599" r="2.2" fill="#d0212b" stroke="#b31c24" stroke-width="0.3" />
<circle cx="610.7" cy="591.6" r="2.2" fill="#d0212b" stroke="#b31c24" stroke-width="0.3" />
<circle cx="613.4" cy="589.7" r="2.2" fill="#d0212b" stroke="#b31c24" stroke-width="0.3" />
<circle cx="612.5" cy="595.3" r="2.2" fill="#d0212b" stroke="#b31c24" stroke-width="0.3" />
<circle cx="609.7" cy="602.6" r="2.2" fill="#d0212b" stroke="#b31c24" stroke-width="0.3" />
<circle cx="613.4" cy="606.3" r="2.2" fill="#d0212b" stroke="#b31c24" stroke-width="0.3" />
<circle cx="605.1" cy="606.3" r="2.2" fill="#d0212b" stroke="#b31c24" stroke-width="0.3" />
<circle cx="596.8" cy="608.2" r="2.2" fill="#d0212b" stroke="#b31c24" stroke-width="0.3" />
<circle cx="604.2" cy="611.8" r="2.2" fill="#d0212b" stroke="#b31c24" stroke-width="0.3" />
<circle cx="608.8" cy="613.7" r="2.2" fill="#d0212b" stroke="#b31c24" stroke-width="0.3" />
<circle cx="612.5" cy="611.8" r="2.2" fill="#d0212b" stroke="#b31c24" stroke-width="0.3" />
<circle cx="623.6" cy="610.9" r="2.2" fill="#d0212b" stroke="#b31c24" stroke-width="0.3" />
<circle cx="612.5" cy="621" r="2.2" fill="#d0212b" stroke="#b31c24" stroke-width="0.3" />
<circle cx="617.1" cy="621" r="2.2" fill="#d0212b" stroke="#b31c24" stroke-width="0.3" />
<circle cx="623.6" cy="622.9" r="2.2" fill="#d0212b" stroke="#b31c24" stroke-width="0.3" />
<circle cx="630" cy="621" r="2.2" fill="#d0212b" stroke="#b31c24" stroke-width="0.3" />
<circle cx="630" cy="626.6" r="2.2" fill="#d0212b" stroke="#b31c24" stroke-width="0.3" />
<circle cx="598.7" cy="624.7" r="2.2" fill="#d0212b" stroke="#b31c24" stroke-width="0.3" />
<circle cx="602.4" cy="624.7" r="2.2" fill="#d0212b" stroke="#b31c24" stroke-width="0.3" />
<circle cx="609.7" cy="628.4" r="2.2" fill="#d0212b" stroke="#b31c24" stroke-width="0.3" />
<circle cx="613.4" cy="631.2" r="2.2" fill="#d0212b" stroke="#b31c24" stroke-width="0.3" />
<circle cx="622.6" cy="632.1" r="2.2" fill="#d0212b" stroke="#b31c24" stroke-width="0.3" />
<circle cx="632.8" cy="632.1" r="2.2" fill="#d0212b" stroke="#b31c24" stroke-width="0.3" />
<circle cx="600.5" cy="635.8" r="2.2" fill="#d0212b" stroke="#b31c24" stroke-width="0.3" />
<circle cx="603.3" cy="634.9" r="2.2" fill="#d0212b" stroke="#b31c24" stroke-width="0.3" />
<circle cx="611.6" cy="636.7" r="2.2" fill="#d0212b" stroke="#b31c24" stroke-width="0.3" />
<circle cx="624.5" cy="635.8" r="2.2" fill="#d0212b" stroke="#b31c24" stroke-width="0.3" />
<circle cx="627.2" cy="639.5" r="2.2" fill="#d0212b" stroke="#b31c24" stroke-width="0.3" />
<circle cx="605.1" cy="644.1" r="2.2" fill="#d0212b" stroke="#b31c24" stroke-width="0.3" />
<circle cx="619" cy="643.2" r="2.2" fill="#d0212b" stroke="#b31c24" stroke-width="0.3" />
<circle cx="629.1" cy="643.2" r="2.2" fill="#d0212b" stroke="#b31c24" stroke-width="0.3" />
<circle cx="631.8" cy="648.7" r="2.2" fill="#d0212b" stroke="#b31c24" stroke-width="0.3" />
<circle cx="596.8" cy="646.8" r="2.2" fill="#d0212b" stroke="#b31c24" stroke-width="0.3" />
<circle cx="619.9" cy="657" r="2.2" fill="#d0212b" stroke="#b31c24" stroke-width="0.3" />
<circle cx="641.1" cy="637.6" r="2.2" fill="#d0212b" stroke="#b31c24" stroke-width="0.3" />
<circle cx="644.7" cy="635.8" r="2.2" fill="#d0212b" stroke="#b31c24" stroke-width="0.3" />
<circle cx="646.6" cy="639.5" r="2.2" fill="#d0212b" stroke="#b31c24" stroke-width="0.3" />
<circle cx="642" cy="643.2" r="2.2" fill="#d0212b" stroke="#b31c24" stroke-width="0.3" />
<circle cx="645.7" cy="645" r="2.2" fill="#d0212b" stroke="#b31c24" stroke-width="0.3" />
<circle cx="642.9" cy="648.7" r="2.2" fill="#d0212b" stroke="#b31c24" stroke-width="0.3" />
<circle cx="646.6" cy="650.5" r="2.2" fill="#d0212b" stroke="#b31c24" stroke-width="0.3" />
<circle cx="644.7" cy="656" r="2.2" fill="#d0212b" stroke="#b31c24" stroke-width="0.3" />
<circle cx="641.1" cy="652.4" r="2.2" fill="#d0212b" stroke="#b31c24" stroke-width="0.3" />
<circle cx="647.5" cy="646.8" r="2.2" fill="#d0212b" stroke="#b31c24" stroke-width="0.3" />
<circle cx="596.8" cy="562.1" r="2.2" fill="#d0212b" stroke="#b31c24" stroke-width="0.3" />
<circle cx="595.9" cy="547.4" r="2.2" fill="#d0212b" stroke="#b31c24" stroke-width="0.3" />
<circle cx="606.1" cy="564" r="2.2" fill="#d0212b" stroke="#b31c24" stroke-width="0.3" />
<circle cx="642.5" cy="552.9" r="2.2" fill="#d0212b" stroke="#b31c24" stroke-width="0.3" />
<circle cx="642" cy="560.6" r="2.2" fill="#d0212b" stroke="#b31c24" stroke-width="0.3" />
<circle cx="609.96" cy="599.44" r="2.2" fill="#d0212b" stroke="#b31c24" stroke-width="0.3" />
<circle cx="601.91" cy="581.35" r="2.2" fill="#d0212b" stroke="#b31c24" stroke-width="0.3" />
<circle cx="605.51" cy="587.68" r="2.2" fill="#d0212b" stroke="#b31c24" stroke-width="0.3" />
<circle cx="628.88" cy="630.48" r="2.2" fill="#d0212b" stroke="#b31c24" stroke-width="0.3" />
<circle cx="621.06" cy="621.9" r="2.2" fill="#d0212b" stroke="#b31c24" stroke-width="0.3" />
<circle cx="601.8" cy="599.81" r="2.2" fill="#d0212b" stroke="#b31c24" stroke-width="0.3" />
<circle cx="591.97" cy="569.86" r="2.2" fill="#d0212b" stroke="#b31c24" stroke-width="0.3" />
<circle cx="611.72" cy="589.27" r="2.2" fill="#d0212b" stroke="#b31c24" stroke-width="0.3" />
<circle cx="621.42" cy="620.74" r="2.2" fill="#d0212b" stroke="#b31c24" stroke-width="0.3" />
<circle cx="606.03" cy="587.44" r="2.2" fill="#d0212b" stroke="#b31c24" stroke-width="0.3" />
<circle cx="631.07" cy="631.9" r="2.2" fill="#d0212b" stroke="#b31c24" stroke-width="0.3" />
<circle cx="621.5" cy="617.49" r="2.2" fill="#d0212b" stroke="#b31c24" stroke-width="0.3" />
<circle cx="609.2" cy="606.08" r="2.2" fill="#d0212b" stroke="#b31c24" stroke-width="0.3" />
<circle cx="599.31" cy="572.5" r="2.2" fill="#d0212b" stroke="#b31c24" stroke-width="0.3" />
<circle cx="643.09" cy="629.86" r="2.2" fill="#d0212b" stroke="#b31c24" stroke-width="0.3" />
<circle cx="597.35" cy="573.36" r="2.2" fill="#d0212b" stroke="#b31c24" stroke-width="0.3" />
<circle cx="633.12" cy="625.54" r="2.2" fill="#d0212b" stroke="#b31c24" stroke-width="0.3" />
<circle cx="593.85" cy="576.1" r="2.2" fill="#d0212b" stroke="#b31c24" stroke-width="0.3" />
<circle cx="602.18" cy="590.51" r="2.2" fill="#d0212b" stroke="#b31c24" stroke-width="0.3" />
<circle cx="630.24" cy="621.79" r="2.2" fill="#d0212b" stroke="#b31c24" stroke-width="0.3" />
<circle cx="595.11" cy="592.26" r="2.2" fill="#d0212b" stroke="#b31c24" stroke-width="0.3" />
<circle cx="602.8" cy="579.89" r="2.2" fill="#d0212b" stroke="#b31c24" stroke-width="0.3" />
<circle cx="600.59" cy="572.25" r="2.2" fill="#d0212b" stroke="#b31c24" stroke-width="0.3" />
<circle cx="621.13" cy="613.96" r="2.2" fill="#d0212b" stroke="#b31c24" stroke-width="0.3" />
<circle cx="596.45" cy="579.09" r="2.2" fill="#d0212b" stroke="#b31c24" stroke-width="0.3" />
<circle cx="600.43" cy="584.61" r="2.2" fill="#d0212b" stroke="#b31c24" stroke-width="0.3" />
<circle cx="617.52" cy="595.26" r="2.2" fill="#d0212b" stroke="#b31c24" stroke-width="0.3" />
<circle cx="636.65" cy="631.64" r="2.2" fill="#d0212b" stroke="#b31c24" stroke-width="0.3" />
<circle cx="602.44" cy="584.07" r="2.2" fill="#d0212b" stroke="#b31c24" stroke-width="0.3" />
<circle cx="620.86" cy="608.72" r="2.2" fill="#d0212b" stroke="#b31c24" stroke-width="0.3" />
<circle cx="610.98" cy="590.1" r="2.2" fill="#d0212b" stroke="#b31c24" stroke-width="0.3" />
<circle cx="607.94" cy="598.42" r="2.2" fill="#d0212b" stroke="#b31c24" stroke-width="0.3" />
<circle cx="638.42" cy="621.83" r="2.2" fill="#d0212b" stroke="#b31c24" stroke-width="0.3" />
<circle cx="604.68" cy="597.3" r="2.2" fill="#d0212b" stroke="#b31c24" stroke-width="0.3" />
<circle cx="645.25" cy="648.37" r="2.2" fill="#d0212b" stroke="#b31c24" stroke-width="0.3" />
<circle cx="643.02" cy="653.23" r="2.2" fill="#d0212b" stroke="#b31c24" stroke-width="0.3" />
<circle cx="645.68" cy="638.81" r="2.2" fill="#d0212b" stroke="#b31c24" stroke-width="0.3" />
<circle cx="646.26" cy="648.83" r="2.2" fill="#d0212b" stroke="#b31c24" stroke-width="0.3" />
<circle cx="642.62" cy="640.52" r="2.2" fill="#d0212b" stroke="#b31c24" stroke-width="0.3" />
<circle cx="645.88" cy="635.76" r="2.2" fill="#d0212b" stroke="#b31c24" stroke-width="0.3" />
<circle cx="643.85" cy="655.2" r="2.2" fill="#d0212b" stroke="#b31c24" stroke-width="0.3" />
<circle cx="642.67" cy="645.07" r="2.2" fill="#d0212b" stroke="#b31c24" stroke-width="0.3" />
<circle cx="581.42" cy="570.73" r="2.2" fill="#d0212b" stroke="#b31c24" stroke-width="0.3" />
<circle cx="567.86" cy="553.01" r="2.2" fill="#d0212b" stroke="#b31c24" stroke-width="0.3" />
<circle cx="584" cy="548.16" r="2.2" fill="#d0212b" stroke="#b31c24" stroke-width="0.3" />
<circle cx="578.5" cy="552.03" r="2.2" fill="#d0212b" stroke="#b31c24" stroke-width="0.3" />
<circle cx="553.04" cy="553.22" r="2.2" fill="#d0212b" stroke="#b31c24" stroke-width="0.3" />
<circle cx="510.18" cy="555.77" r="2.2" fill="#d0212b" stroke="#b31c24" stroke-width="0.3" />
<circle cx="546.89" cy="567.52" r="2.2" fill="#d0212b" stroke="#b31c24" stroke-width="0.3" />
<circle cx="554.01" cy="546.72" r="2.2" fill="#d0212b" stroke="#b31c24" stroke-width="0.3" />
<circle cx="521.3" cy="563.72" r="2.2" fill="#d0212b" stroke="#b31c24" stroke-width="0.3" />
<circle cx="517.37" cy="555.35" r="2.2" fill="#d0212b" stroke="#b31c24" stroke-width="0.3" />
<circle cx="557.15" cy="566.66" r="2.2" fill="#d0212b" stroke="#b31c24" stroke-width="0.3" />
<circle cx="500.03" cy="555.27" r="2.2" fill="#d0212b" stroke="#b31c24" stroke-width="0.3" />
<circle cx="497.57" cy="554.32" r="2.2" fill="#d0212b" stroke="#b31c24" stroke-width="0.3" />
<circle cx="552.92" cy="558.23" r="2.2" fill="#d0212b" stroke="#b31c24" stroke-width="0.3" />
<circle cx="576.76" cy="544.65" r="2.2" fill="#d0212b" stroke="#b31c24" stroke-width="0.3" />
<circle cx="576.1" cy="548.76" r="2.2" fill="#d0212b" stroke="#b31c24" stroke-width="0.3" />
<circle cx="523.59" cy="534.27" r="2.2" fill="#d0212b" stroke="#b31c24" stroke-width="0.3" />
<circle cx="538.62" cy="530.05" r="2.2" fill="#d0212b" stroke="#b31c24" stroke-width="0.3" />
<circle cx="513.4" cy="555.55" r="2.2" fill="#d0212b" stroke="#b31c24" stroke-width="0.3" />
<circle cx="563.22" cy="537.49" r="2.2" fill="#d0212b" stroke="#b31c24" stroke-width="0.3" />
<circle cx="567.48" cy="549.49" r="2.2" fill="#d0212b" stroke="#b31c24" stroke-width="0.3" />
<circle cx="501.4" cy="558.45" r="2.2" fill="#d0212b" stroke="#b31c24" stroke-width="0.3" />
<circle cx="562.24" cy="548.57" r="2.2" fill="#d0212b" stroke="#b31c24" stroke-width="0.3" />
<circle cx="538.54" cy="553.55" r="2.2" fill="#d0212b" stroke="#b31c24" stroke-width="0.3" />
<circle cx="550.01" cy="559.07" r="2.2" fill="#d0212b" stroke="#b31c24" stroke-width="0.3" />
<circle cx="565.66" cy="539.59" r="2.2" fill="#d0212b" stroke="#b31c24" stroke-width="0.3" />
<circle cx="480.35" cy="534" r="2.2" fill="#d0212b" stroke="#b31c24" stroke-width="0.3" />
<circle cx="513.06" cy="552.06" r="2.2" fill="#d0212b" stroke="#b31c24" stroke-width="0.3" />
<circle cx="587.57" cy="555.49" r="2.2" fill="#d0212b" stroke="#b31c24" stroke-width="0.3" />
<circle cx="520.09" cy="551.17" r="2.2" fill="#d0212b" stroke="#b31c24" stroke-width="0.3" />
<circle cx="586.11" cy="561.48" r="2.2" fill="#d0212b" stroke="#b31c24" stroke-width="0.3" />
<circle cx="511.65" cy="558.75" r="2.2" fill="#d0212b" stroke="#b31c24" stroke-width="0.3" />
<circle cx="591.07" cy="571.03" r="2.2" fill="#d0212b" stroke="#b31c24" stroke-width="0.3" />
<circle cx="523.42" cy="536.55" r="2.2" fill="#d0212b" stroke="#b31c24" stroke-width="0.3" />
<circle cx="530.53" cy="534.88" r="2.2" fill="#d0212b" stroke="#b31c24" stroke-width="0.3" />
<circle cx="492.9" cy="546.97" r="2.2" fill="#d0212b" stroke="#b31c24" stroke-width="0.3" />
<circle cx="574.93" cy="561.89" r="2.2" fill="#d0212b" stroke="#b31c24" stroke-width="0.3" />
<circle cx="525.67" cy="566.26" r="2.2" fill="#d0212b" stroke="#b31c24" stroke-width="0.3" />
<circle cx="498.39" cy="539.51" r="2.2" fill="#d0212b" stroke="#b31c24" stroke-width="0.3" />
<circle cx="509.19" cy="551.76" r="2.2" fill="#d0212b" stroke="#b31c24" stroke-width="0.3" />
<circle cx="579.43" cy="551.34" r="2.2" fill="#d0212b" stroke="#b31c24" stroke-width="0.3" />
<circle cx="572.24" cy="569.89" r="2.2" fill="#d0212b" stroke="#b31c24" stroke-width="0.3" />
<circle cx="532.63" cy="563.93" r="2.2" fill="#d0212b" stroke="#b31c24" stroke-width="0.3" />
<circle cx="579.38" cy="554.88" r="2.2" fill="#d0212b" stroke="#b31c24" stroke-width="0.3" />
<circle cx="497.32" cy="532.84" r="2.2" fill="#d0212b" stroke="#b31c24" stroke-width="0.3" />
<circle cx="505.31" cy="547.48" r="2.2" fill="#d0212b" stroke="#b31c24" stroke-width="0.3" />
<circle cx="479.76" cy="542.53" r="2.2" fill="#d0212b" stroke="#b31c24" stroke-width="0.3" />
<circle cx="534.33" cy="542.76" r="2.2" fill="#d0212b" stroke="#b31c24" stroke-width="0.3" />
<circle cx="561.64" cy="552.22" r="2.2" fill="#d0212b" stroke="#b31c24" stroke-width="0.3" />
<circle cx="538.76" cy="554.07" r="2.2" fill="#d0212b" stroke="#b31c24" stroke-width="0.3" />
<circle cx="544.46" cy="545.73" r="2.2" fill="#d0212b" stroke="#b31c24" stroke-width="0.3" />
<circle cx="496.92" cy="552.35" r="2.2" fill="#d0212b" stroke="#b31c24" stroke-width="0.3" />
<circle cx="483.41" cy="531.37" r="2.2" fill="#d0212b" stroke="#b31c24" stroke-width="0.3" />
<circle cx="517.03" cy="538.74" r="2.2" fill="#d0212b" stroke="#b31c24" stroke-width="0.3" />
<circle cx="564.13" cy="537.47" r="2.2" fill="#d0212b" stroke="#b31c24" stroke-width="0.3" />
<circle cx="528.06" cy="556.43" r="2.2" fill="#d0212b" stroke="#b31c24" stroke-width="0.3" />
<circle cx="525.62" cy="560.6" r="2.2" fill="#d0212b" stroke="#b31c24" stroke-width="0.3" />
<circle cx="491.36" cy="536.53" r="2.2" fill="#d0212b" stroke="#b31c24" stroke-width="0.3" />
<circle cx="509.41" cy="543.88" r="2.2" fill="#d0212b" stroke="#b31c24" stroke-width="0.3" />
<circle cx="541.81" cy="537.53" r="2.2" fill="#d0212b" stroke="#b31c24" stroke-width="0.3" />
<circle cx="399.6" cy="517.6" r="2.1" fill="#858585" stroke="#3a3a3a" stroke-width="0.9" />
<circle cx="414.5" cy="520" r="2.1" fill="#858585" stroke="#3a3a3a" stroke-width="0.9" />
<circle cx="411.8" cy="526.6" r="2.1" fill="#858585" stroke="#3a3a3a" stroke-width="0.9" />
<circle cx="415" cy="525.8" r="2.1" fill="#858585" stroke="#3a3a3a" stroke-width="0.9" />
<circle cx="434.9" cy="518.2" r="2.1" fill="#858585" stroke="#3a3a3a" stroke-width="0.9" />
<circle cx="445.2" cy="524.6" r="2.1" fill="#858585" stroke="#3a3a3a" stroke-width="0.9" />
<circle cx="449.8" cy="528.4" r="2.1" fill="#858585" stroke="#3a3a3a" stroke-width="0.9" />
<circle cx="452.2" cy="530.7" r="2.1" fill="#858585" stroke="#3a3a3a" stroke-width="0.9" />
<circle cx="458.2" cy="527" r="2.1" fill="#858585" stroke="#3a3a3a" stroke-width="0.9" />
<circle cx="429" cy="528.4" r="2.1" fill="#858585" stroke="#3a3a3a" stroke-width="0.9" />
<circle cx="435.5" cy="532.4" r="2.1" fill="#858585" stroke="#3a3a3a" stroke-width="0.9" />
<circle cx="416.2" cy="534.2" r="2.1" fill="#858585" stroke="#3a3a3a" stroke-width="0.9" />
<circle cx="423.8" cy="535.6" r="2.1" fill="#858585" stroke="#3a3a3a" stroke-width="0.9" />
<circle cx="423.2" cy="536.8" r="2.1" fill="#858585" stroke="#3a3a3a" stroke-width="0.9" />
<circle cx="398.7" cy="540" r="2.1" fill="#858585" stroke="#3a3a3a" stroke-width="0.9" />
<circle cx="405.9" cy="544.1" r="2.1" fill="#858585" stroke="#3a3a3a" stroke-width="0.9" />
<circle cx="422.6" cy="550.5" r="2.1" fill="#858585" stroke="#3a3a3a" stroke-width="0.9" />
<circle cx="419.1" cy="557.6" r="2.1" fill="#858585" stroke="#3a3a3a" stroke-width="0.9" />
<circle cx="443.1" cy="538.3" r="2.1" fill="#858585" stroke="#3a3a3a" stroke-width="0.9" />
<circle cx="450.7" cy="541.2" r="2.1" fill="#858585" stroke="#3a3a3a" stroke-width="0.9" />
<circle cx="447.2" cy="548.4" r="2.1" fill="#858585" stroke="#3a3a3a" stroke-width="0.9" />
<circle cx="455.3" cy="548.4" r="2.1" fill="#858585" stroke="#3a3a3a" stroke-width="0.9" />
<circle cx="457.1" cy="544.7" r="2.1" fill="#858585" stroke="#3a3a3a" stroke-width="0.9" />
<circle cx="451.2" cy="560.8" r="2.1" fill="#858585" stroke="#3a3a3a" stroke-width="0.9" />
<circle cx="451" cy="561.2" r="2.1" fill="#858585" stroke="#3a3a3a" stroke-width="0.9" />
<circle cx="409.2" cy="588.5" r="2.1" fill="#858585" stroke="#3a3a3a" stroke-width="0.9" />
<circle cx="437.7" cy="587.3" r="2.1" fill="#858585" stroke="#3a3a3a" stroke-width="0.9" />
<circle cx="461.4" cy="518.4" r="2.1" fill="#858585" stroke="#3a3a3a" stroke-width="0.9" />
<circle cx="458.5" cy="526.6" r="2.1" fill="#858585" stroke="#3a3a3a" stroke-width="0.9" />
<circle cx="469.6" cy="524.9" r="2.1" fill="#858585" stroke="#3a3a3a" stroke-width="0.9" />
<circle cx="471.4" cy="528.9" r="2.1" fill="#858585" stroke="#3a3a3a" stroke-width="0.9" />
<circle cx="476.6" cy="527" r="2.1" fill="#858585" stroke="#3a3a3a" stroke-width="0.9" />
<circle cx="462" cy="533" r="2.1" fill="#858585" stroke="#3a3a3a" stroke-width="0.9" />
<circle cx="459.1" cy="540.6" r="2.1" fill="#858585" stroke="#3a3a3a" stroke-width="0.9" />
<circle cx="456.8" cy="544.1" r="2.1" fill="#858585" stroke="#3a3a3a" stroke-width="0.9" />
<circle cx="456.2" cy="548.8" r="2.1" fill="#858585" stroke="#3a3a3a" stroke-width="0.9" />
<circle cx="466.7" cy="543.5" r="2.1" fill="#858585" stroke="#3a3a3a" stroke-width="0.9" />
<circle cx="474.3" cy="541.4" r="2.1" fill="#858585" stroke="#3a3a3a" stroke-width="0.9" />
<circle cx="480.9" cy="541.8" r="2.1" fill="#858585" stroke="#3a3a3a" stroke-width="0.9" />
<circle cx="479.5" cy="549.4" r="2.1" fill="#858585" stroke="#3a3a3a" stroke-width="0.9" />
<circle cx="484.2" cy="535.1" r="2.1" fill="#858585" stroke="#3a3a3a" stroke-width="0.9" />
<circle cx="483.6" cy="524.3" r="2.1" fill="#858585" stroke="#3a3a3a" stroke-width="0.9" />
<circle cx="487.1" cy="527.2" r="2.1" fill="#858585" stroke="#3a3a3a" stroke-width="0.9" />
<circle cx="491.2" cy="523.7" r="2.1" fill="#858585" stroke="#3a3a3a" stroke-width="0.9" />
<circle cx="493" cy="528.9" r="2.1" fill="#858585" stroke="#3a3a3a" stroke-width="0.9" />
<circle cx="491.2" cy="534.2" r="2.1" fill="#858585" stroke="#3a3a3a" stroke-width="0.9" />
<circle cx="499.4" cy="523.1" r="2.1" fill="#858585" stroke="#3a3a3a" stroke-width="0.9" />
<circle cx="504.6" cy="524.9" r="2.1" fill="#858585" stroke="#3a3a3a" stroke-width="0.9" />
<circle cx="507.6" cy="526.6" r="2.1" fill="#858585" stroke="#3a3a3a" stroke-width="0.9" />
<circle cx="499.4" cy="532.4" r="2.1" fill="#858585" stroke="#3a3a3a" stroke-width="0.9" />
<circle cx="502.9" cy="535.4" r="2.1" fill="#858585" stroke="#3a3a3a" stroke-width="0.9" />
<circle cx="506.4" cy="536.5" r="2.1" fill="#858585" stroke="#3a3a3a" stroke-width="0.9" />
<circle cx="505.2" cy="539.5" r="2.1" fill="#858585" stroke="#3a3a3a" stroke-width="0.9" />
<circle cx="495.3" cy="538.9" r="2.1" fill="#858585" stroke="#3a3a3a" stroke-width="0.9" />
<circle cx="497" cy="543" r="2.1" fill="#858585" stroke="#3a3a3a" stroke-width="0.9" />
<circle cx="498.8" cy="545.3" r="2.1" fill="#858585" stroke="#3a3a3a" stroke-width="0.9" />
<circle cx="506.4" cy="543" r="2.1" fill="#858585" stroke="#3a3a3a" stroke-width="0.9" />
<circle cx="514.6" cy="534.2" r="2.1" fill="#858585" stroke="#3a3a3a" stroke-width="0.9" />
<circle cx="516.3" cy="523.1" r="2.1" fill="#858585" stroke="#3a3a3a" stroke-width="0.9" />
<circle cx="518.1" cy="527.8" r="2.1" fill="#858585" stroke="#3a3a3a" stroke-width="0.9" />
<circle cx="523.9" cy="531.6" r="2.1" fill="#858585" stroke="#3a3a3a" stroke-width="0.9" />
<circle cx="525.1" cy="535.1" r="2.1" fill="#858585" stroke="#3a3a3a" stroke-width="0.9" />
<circle cx="519.2" cy="534.8" r="2.1" fill="#858585" stroke="#3a3a3a" stroke-width="0.9" />
<circle cx="528.6" cy="531.3" r="2.1" fill="#858585" stroke="#3a3a3a" stroke-width="0.9" />
<circle cx="530.3" cy="520.8" r="2.1" fill="#858585" stroke="#3a3a3a" stroke-width="0.9" />
<circle cx="530.3" cy="526.6" r="2.1" fill="#858585" stroke="#3a3a3a" stroke-width="0.9" />
<circle cx="530.3" cy="538.3" r="2.1" fill="#858585" stroke="#3a3a3a" stroke-width="0.9" />
<circle cx="522.7" cy="541.2" r="2.1" fill="#858585" stroke="#3a3a3a" stroke-width="0.9" />
<circle cx="490" cy="551.1" r="2.1" fill="#858585" stroke="#3a3a3a" stroke-width="0.9" />
<circle cx="501.1" cy="552.9" r="2.1" fill="#858585" stroke="#3a3a3a" stroke-width="0.9" />
<circle cx="509.9" cy="550.5" r="2.1" fill="#858585" stroke="#3a3a3a" stroke-width="0.9" />
<circle cx="515.7" cy="556.4" r="2.1" fill="#858585" stroke="#3a3a3a" stroke-width="0.9" />
<circle cx="522.7" cy="555.2" r="2.1" fill="#858585" stroke="#3a3a3a" stroke-width="0.9" />
<circle cx="526.8" cy="561.6" r="2.1" fill="#858585" stroke="#3a3a3a" stroke-width="0.9" />
<circle cx="531.5" cy="556.4" r="2.1" fill="#858585" stroke="#3a3a3a" stroke-width="0.9" />
<circle cx="534.4" cy="542.4" r="2.1" fill="#858585" stroke="#3a3a3a" stroke-width="0.9" />
<circle cx="479.2" cy="573.7" r="2.1" fill="#858585" stroke="#3a3a3a" stroke-width="0.9" />
<circle cx="497.9" cy="570.1" r="2.1" fill="#858585" stroke="#3a3a3a" stroke-width="0.9" />
<circle cx="499.1" cy="573.3" r="2.1" fill="#858585" stroke="#3a3a3a" stroke-width="0.9" />
<circle cx="476.8" cy="590" r="2.1" fill="#858585" stroke="#3a3a3a" stroke-width="0.9" />
<circle cx="515" cy="581.8" r="2.1" fill="#858585" stroke="#3a3a3a" stroke-width="0.9" />
<circle cx="531.4" cy="575.3" r="2.1" fill="#858585" stroke="#3a3a3a" stroke-width="0.9" />
<circle cx="526.7" cy="561.6" r="2.1" fill="#858585" stroke="#3a3a3a" stroke-width="0.9" />
<circle cx="499.4" cy="627.4" r="2.1" fill="#858585" stroke="#3a3a3a" stroke-width="0.9" />
<circle cx="470.3" cy="634.4" r="2.1" fill="#858585" stroke="#3a3a3a" stroke-width="0.9" />
<circle cx="475.6" cy="640.8" r="2.1" fill="#858585" stroke="#3a3a3a" stroke-width="0.9" />
<circle cx="482.3" cy="639.8" r="2.1" fill="#858585" stroke="#3a3a3a" stroke-width="0.9" />
<circle cx="517.4" cy="639.5" r="2.1" fill="#858585" stroke="#3a3a3a" stroke-width="0.9" />
<circle cx="533.8" cy="634.1" r="2.1" fill="#858585" stroke="#3a3a3a" stroke-width="0.9" />
<circle cx="530.5" cy="520.3" r="2.1" fill="#858585" stroke="#3a3a3a" stroke-width="0.9" />
<circle cx="530.5" cy="526.5" r="2.1" fill="#858585" stroke="#3a3a3a" stroke-width="0.9" />
<circle cx="540.2" cy="531.6" r="2.1" fill="#858585" stroke="#3a3a3a" stroke-width="0.9" />
<circle cx="543.3" cy="535.1" r="2.1" fill="#858585" stroke="#3a3a3a" stroke-width="0.9" />
<circle cx="550.9" cy="531.6" r="2.1" fill="#858585" stroke="#3a3a3a" stroke-width="0.9" />
<circle cx="563.2" cy="538.7" r="2.1" fill="#858585" stroke="#3a3a3a" stroke-width="0.9" />
<circle cx="578" cy="538.2" r="2.1" fill="#858585" stroke="#3a3a3a" stroke-width="0.9" />
<circle cx="535.1" cy="542.8" r="2.1" fill="#858585" stroke="#3a3a3a" stroke-width="0.9" />
<circle cx="540.7" cy="540.8" r="2.1" fill="#858585" stroke="#3a3a3a" stroke-width="0.9" />
<circle cx="544.8" cy="541.8" r="2.1" fill="#858585" stroke="#3a3a3a" stroke-width="0.9" />
<circle cx="546.9" cy="543.8" r="2.1" fill="#858585" stroke="#3a3a3a" stroke-width="0.9" />
<circle cx="544.8" cy="545.9" r="2.1" fill="#858585" stroke="#3a3a3a" stroke-width="0.9" />
<circle cx="541.8" cy="548.4" r="2.1" fill="#858585" stroke="#3a3a3a" stroke-width="0.9" />
<circle cx="552" cy="543.3" r="2.1" fill="#858585" stroke="#3a3a3a" stroke-width="0.9" />
<circle cx="557.1" cy="545.4" r="2.1" fill="#858585" stroke="#3a3a3a" stroke-width="0.9" />
<circle cx="559.6" cy="547.9" r="2.1" fill="#858585" stroke="#3a3a3a" stroke-width="0.9" />
<circle cx="550.4" cy="551" r="2.1" fill="#858585" stroke="#3a3a3a" stroke-width="0.9" />
<circle cx="571.4" cy="544.3" r="2.1" fill="#858585" stroke="#3a3a3a" stroke-width="0.9" />
<circle cx="575" cy="545.9" r="2.1" fill="#858585" stroke="#3a3a3a" stroke-width="0.9" />
<circle cx="577.5" cy="546.9" r="2.1" fill="#858585" stroke="#3a3a3a" stroke-width="0.9" />
<circle cx="573.9" cy="553" r="2.1" fill="#858585" stroke="#3a3a3a" stroke-width="0.9" />
<circle cx="564.2" cy="555.1" r="2.1" fill="#858585" stroke="#3a3a3a" stroke-width="0.9" />
<circle cx="569.3" cy="560.7" r="2.1" fill="#858585" stroke="#3a3a3a" stroke-width="0.9" />
<circle cx="583.1" cy="557.1" r="2.1" fill="#858585" stroke="#3a3a3a" stroke-width="0.9" />
<circle cx="588.8" cy="545.9" r="2.1" fill="#858585" stroke="#3a3a3a" stroke-width="0.9" />
<circle cx="588.2" cy="551" r="2.1" fill="#858585" stroke="#3a3a3a" stroke-width="0.9" />
<circle cx="593.9" cy="550" r="2.1" fill="#858585" stroke="#3a3a3a" stroke-width="0.9" />
<circle cx="591.3" cy="555.1" r="2.1" fill="#858585" stroke="#3a3a3a" stroke-width="0.9" />
<circle cx="594.4" cy="556.6" r="2.1" fill="#858585" stroke="#3a3a3a" stroke-width="0.9" />
<circle cx="589.3" cy="560.2" r="2.1" fill="#858585" stroke="#3a3a3a" stroke-width="0.9" />
<circle cx="531.5" cy="556.1" r="2.1" fill="#858585" stroke="#3a3a3a" stroke-width="0.9" />
<circle cx="545.3" cy="563.8" r="2.1" fill="#858585" stroke="#3a3a3a" stroke-width="0.9" />
<circle cx="594.4" cy="562.2" r="2.1" fill="#858585" stroke="#3a3a3a" stroke-width="0.9" />
<circle cx="537" cy="567" r="2.1" fill="#858585" stroke="#3a3a3a" stroke-width="0.9" />
<circle cx="542.5" cy="567" r="2.1" fill="#858585" stroke="#3a3a3a" stroke-width="0.9" />
<circle cx="544.8" cy="564.7" r="2.1" fill="#858585" stroke="#3a3a3a" stroke-width="0.9" />
<circle cx="547.5" cy="569.4" r="2.1" fill="#858585" stroke="#3a3a3a" stroke-width="0.9" />
<circle cx="531.6" cy="574.8" r="2.1" fill="#858585" stroke="#3a3a3a" stroke-width="0.9" />
<circle cx="539.4" cy="587.3" r="2.1" fill="#858585" stroke="#3a3a3a" stroke-width="0.9" />
<circle cx="556.5" cy="588.1" r="2.1" fill="#858585" stroke="#3a3a3a" stroke-width="0.9" />
<circle cx="558.8" cy="577.9" r="2.1" fill="#858585" stroke="#3a3a3a" stroke-width="0.9" />
<circle cx="569.8" cy="560.8" r="2.1" fill="#858585" stroke="#3a3a3a" stroke-width="0.9" />
<circle cx="575.2" cy="566.2" r="2.1" fill="#858585" stroke="#3a3a3a" stroke-width="0.9" />
<circle cx="576" cy="571.7" r="2.1" fill="#858585" stroke="#3a3a3a" stroke-width="0.9" />
<circle cx="572.1" cy="582.6" r="2.1" fill="#858585" stroke="#3a3a3a" stroke-width="0.9" />
<circle cx="573.7" cy="587.3" r="2.1" fill="#858585" stroke="#3a3a3a" stroke-width="0.9" />
<circle cx="581.5" cy="564.7" r="2.1" fill="#858585" stroke="#3a3a3a" stroke-width="0.9" />
<circle cx="588.5" cy="563.1" r="2.1" fill="#858585" stroke="#3a3a3a" stroke-width="0.9" />
<circle cx="593.9" cy="563.1" r="2.1" fill="#858585" stroke="#3a3a3a" stroke-width="0.9" />
<circle cx="592.4" cy="568.6" r="2.1" fill="#858585" stroke="#3a3a3a" stroke-width="0.9" />
<circle cx="591.6" cy="576.4" r="2.1" fill="#858585" stroke="#3a3a3a" stroke-width="0.9" />
<circle cx="593.1" cy="584.2" r="2.1" fill="#858585" stroke="#3a3a3a" stroke-width="0.9" />
<circle cx="591.6" cy="593.5" r="2.1" fill="#858585" stroke="#3a3a3a" stroke-width="0.9" />
<circle cx="592.4" cy="596.6" r="2.1" fill="#858585" stroke="#3a3a3a" stroke-width="0.9" />
<circle cx="567.4" cy="600.5" r="2.1" fill="#858585" stroke="#3a3a3a" stroke-width="0.9" />
<circle cx="579.6" cy="601.3" r="2.1" fill="#858585" stroke="#3a3a3a" stroke-width="0.9" />
<circle cx="576" cy="614.6" r="2.1" fill="#858585" stroke="#3a3a3a" stroke-width="0.9" />
<circle cx="585.3" cy="614.9" r="2.1" fill="#858585" stroke="#3a3a3a" stroke-width="0.9" />
<circle cx="544.8" cy="622.4" r="2.1" fill="#858585" stroke="#3a3a3a" stroke-width="0.9" />
<circle cx="555.7" cy="620.5" r="2.1" fill="#858585" stroke="#3a3a3a" stroke-width="0.9" />
<circle cx="576" cy="625.5" r="2.1" fill="#858585" stroke="#3a3a3a" stroke-width="0.9" />
<circle cx="580.7" cy="628.6" r="2.1" fill="#858585" stroke="#3a3a3a" stroke-width="0.9" />
<circle cx="589.2" cy="628.9" r="2.1" fill="#858585" stroke="#3a3a3a" stroke-width="0.9" />
<circle cx="535" cy="634.1" r="2.1" fill="#858585" stroke="#3a3a3a" stroke-width="0.9" />
<circle cx="555.7" cy="633.7" r="2.1" fill="#858585" stroke="#3a3a3a" stroke-width="0.9" />
<circle cx="584.3" cy="638.7" r="2.1" fill="#858585" stroke="#3a3a3a" stroke-width="0.9" />
<circle cx="588.5" cy="641.4" r="2.1" fill="#858585" stroke="#3a3a3a" stroke-width="0.9" />
<circle cx="593.6" cy="636.7" r="2.1" fill="#858585" stroke="#3a3a3a" stroke-width="0.9" />
<circle cx="593.1" cy="644.2" r="2.1" fill="#858585" stroke="#3a3a3a" stroke-width="0.9" />
<circle cx="550.3" cy="644.2" r="2.1" fill="#858585" stroke="#3a3a3a" stroke-width="0.9" />
<circle cx="570.5" cy="646.1" r="2.1" fill="#858585" stroke="#3a3a3a" stroke-width="0.9" />
<circle cx="595" cy="551" r="2.1" fill="#858585" stroke="#3a3a3a" stroke-width="0.9" />
<circle cx="595" cy="557.5" r="2.1" fill="#858585" stroke="#3a3a3a" stroke-width="0.9" />
<circle cx="595.9" cy="564" r="2.1" fill="#858585" stroke="#3a3a3a" stroke-width="0.9" />
<circle cx="596.8" cy="568.6" r="2.1" fill="#858585" stroke="#3a3a3a" stroke-width="0.9" />
<circle cx="604.2" cy="566.7" r="2.1" fill="#858585" stroke="#3a3a3a" stroke-width="0.9" />
<circle cx="607" cy="571.3" r="2.1" fill="#858585" stroke="#3a3a3a" stroke-width="0.9" />
<circle cx="604.2" cy="584.2" r="2.1" fill="#858585" stroke="#3a3a3a" stroke-width="0.9" />
<circle cx="616.2" cy="595.3" r="2.1" fill="#858585" stroke="#3a3a3a" stroke-width="0.9" />
<circle cx="607.9" cy="599" r="2.1" fill="#858585" stroke="#3a3a3a" stroke-width="0.9" />
<circle cx="615.3" cy="617.4" r="2.1" fill="#858585" stroke="#3a3a3a" stroke-width="0.9" />
<circle cx="616.2" cy="624.7" r="2.1" fill="#858585" stroke="#3a3a3a" stroke-width="0.9" />
<circle cx="619.9" cy="633" r="2.1" fill="#858585" stroke="#3a3a3a" stroke-width="0.9" />
<circle cx="616.2" cy="635.8" r="2.1" fill="#858585" stroke="#3a3a3a" stroke-width="0.9" />
<circle cx="611.6" cy="645" r="2.1" fill="#858585" stroke="#3a3a3a" stroke-width="0.9" />
<circle cx="608.8" cy="649.6" r="2.1" fill="#858585" stroke="#3a3a3a" stroke-width="0.9" />
<circle cx="614.3" cy="648.7" r="2.1" fill="#858585" stroke="#3a3a3a" stroke-width="0.9" />
<circle cx="623.6" cy="645" r="2.1" fill="#858585" stroke="#3a3a3a" stroke-width="0.9" />
<circle cx="627.2" cy="646.8" r="2.1" fill="#858585" stroke="#3a3a3a" stroke-width="0.9" />
<circle cx="620.8" cy="652.4" r="2.1" fill="#858585" stroke="#3a3a3a" stroke-width="0.9" />
<circle cx="624.5" cy="653.3" r="2.1" fill="#858585" stroke="#3a3a3a" stroke-width="0.9" />
<circle cx="634.6" cy="646.8" r="2.1" fill="#858585" stroke="#3a3a3a" stroke-width="0.9" />
<circle cx="636.4" cy="654.2" r="2.1" fill="#858585" stroke="#3a3a3a" stroke-width="0.9" />
<circle cx="595" cy="637.6" r="2.1" fill="#858585" stroke="#3a3a3a" stroke-width="0.9" />
</svg></body></html>
